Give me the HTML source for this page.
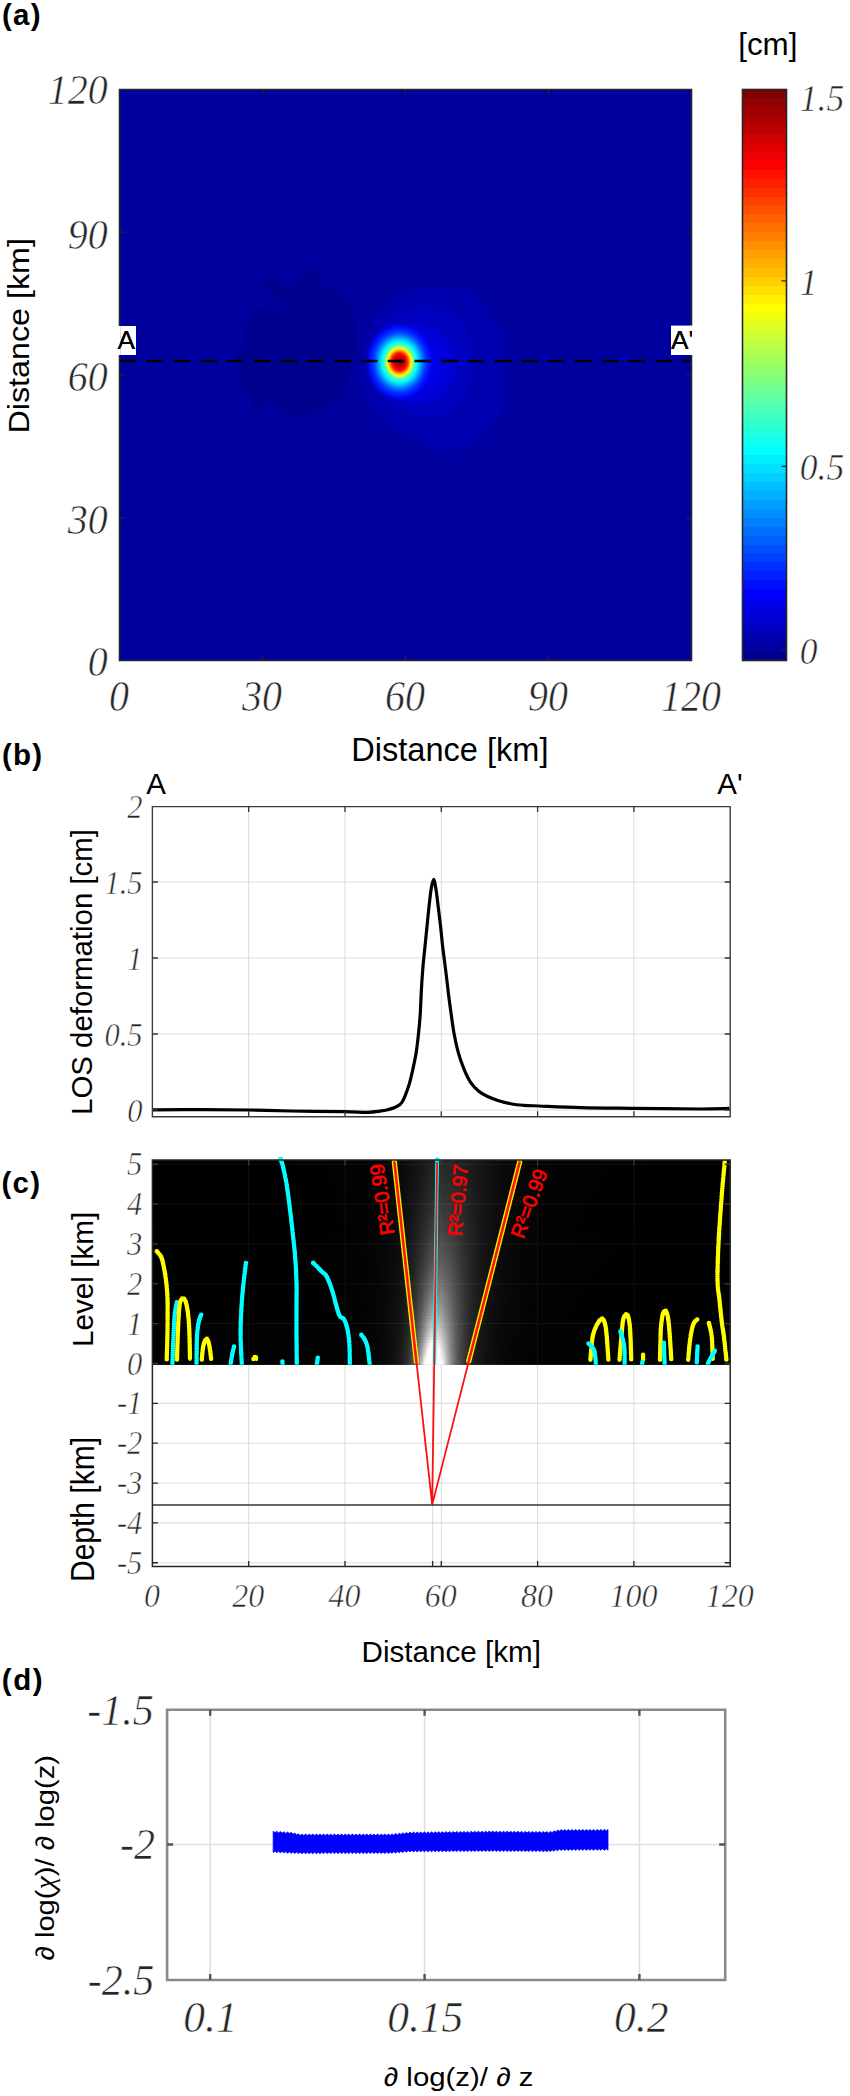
<!DOCTYPE html><html><head><meta charset="utf-8"><style>html,body{margin:0;padding:0;background:#fff}svg{display:block}</style></head><body>
<svg width="850" height="2096" viewBox="0 0 850 2096">
<rect width="850" height="2096" fill="#fff"/>
<defs>
<clipPath id="mapclip"><rect x="119.5" y="89.5" width="572.0" height="571.0"/></clipPath>
<radialGradient id="spotg" cx="0.5" cy="0.5" r="0.5"><stop offset="0.0000" stop-color="#8F0000"/><stop offset="0.0882" stop-color="#A80000"/><stop offset="0.1618" stop-color="#DB0000"/><stop offset="0.2206" stop-color="#FF0F00"/><stop offset="0.2647" stop-color="#FF5700"/><stop offset="0.3088" stop-color="#FFBD00"/><stop offset="0.3529" stop-color="#F0FF0F"/><stop offset="0.3971" stop-color="#9EFF61"/><stop offset="0.4412" stop-color="#42FFBD"/><stop offset="0.5000" stop-color="#0AFFF5"/><stop offset="0.5588" stop-color="#00DBFF"/><stop offset="0.6324" stop-color="#009EFF"/><stop offset="0.7206" stop-color="#0057FF"/><stop offset="0.7941" stop-color="#002EFF"/><stop offset="0.8824" stop-color="#000FFF"/><stop offset="1" stop-color="#0000F8" stop-opacity="0"/></radialGradient>
<radialGradient id="outg" cx="0.5" cy="0.5" r="0.5" fx="0.28" fy="0.47"><stop offset="0" stop-color="#0000FF"/><stop offset="0.35" stop-color="#0000F6"/><stop offset="0.7" stop-color="#0000E0"/><stop offset="0.93" stop-color="#0000D2"/><stop offset="1" stop-color="#0000CC"/></radialGradient>
</defs>
<g clip-path="url(#mapclip)">
<rect x="119.5" y="89.5" width="572.0" height="571.0" fill="#00009F"/>
<polygon fill="#00008F" points="322.6,266.0 319.8,278.2 321.6,284.8 332.9,291.4 344.2,298.9 351.8,310.2 355.5,323.4 354.6,338.5 355.5,349.8 352.7,366.7 348.0,379.9 342.4,387.4 344.2,395.9 334.8,398.7 331.1,406.2 314.1,412.8 301.0,419.4 289.6,415.6 276.5,406.2 268.9,402.5 259.5,411.9 251.1,404.4 250.1,391.2 240.7,388.4 238.8,366.7 236.0,355.4 240.7,347.9 245.4,338.5 242.6,329.1 250.1,317.8 254.8,308.4 267.1,306.5 280.2,310.2 284.0,304.6 270.8,297.1 269.9,288.6 261.4,282.0 265.2,278.2 274.6,278.2 284.0,287.6 291.5,285.7 302.8,276.4 314.1,268.8"/>
<ellipse cx="200.7" cy="344" rx="4.2" ry="2.4" fill="#00008F"/>
<ellipse cx="212" cy="370.5" rx="5" ry="2.6" fill="#00008F"/>
<ellipse cx="218.2" cy="384" rx="2.6" ry="2.6" fill="#00008F"/>
<path fill="#0000AF" d="M428.0,288.0 C435.7,287.2 443.0,288.5 450.0,289.0 C457.0,289.5 464.0,288.2 470.0,291.0 C476.0,293.8 482.3,301.2 486.0,306.0 C489.7,310.8 489.3,316.0 492.0,320.0 C494.7,324.0 499.7,325.7 502.0,330.0 C504.3,334.3 505.5,341.3 506.0,346.0 C506.5,350.7 505.3,354.0 505.0,358.0 C504.7,362.0 504.2,364.3 504.0,370.0 C503.8,375.7 504.3,385.7 504.0,392.0 C503.7,398.3 503.7,402.7 502.0,408.0 C500.3,413.3 497.7,419.0 494.0,424.0 C490.3,429.0 485.7,434.0 480.0,438.0 C474.3,442.0 467.3,446.0 460.0,448.0 C452.7,450.0 443.3,451.3 436.0,450.0 C428.7,448.7 422.7,443.0 416.0,440.0 C409.3,437.0 402.3,436.0 396.0,432.0 C389.7,428.0 383.0,422.0 378.0,416.0 C373.0,410.0 368.8,403.7 366.0,396.0 C363.2,388.3 361.3,378.3 361.0,370.0 C360.7,361.7 362.2,353.7 364.0,346.0 C365.8,338.3 368.3,330.7 372.0,324.0 C375.7,317.3 380.7,311.0 386.0,306.0 C391.3,301.0 397.0,297.0 404.0,294.0 C411.0,291.0 420.3,288.8 428.0,288.0Z"/>
<path fill="#0000BF" d="M428.0,306.0 C435.7,306.3 444.0,308.7 450.0,312.0 C456.0,315.3 460.3,320.3 464.0,326.0 C467.7,331.7 470.5,339.0 472.0,346.0 C473.5,353.0 473.7,360.7 473.0,368.0 C472.3,375.3 470.8,383.3 468.0,390.0 C465.2,396.7 461.3,403.3 456.0,408.0 C450.7,412.7 442.7,416.7 436.0,418.0 C429.3,419.3 423.7,418.3 416.0,416.0 C408.3,413.7 397.0,409.3 390.0,404.0 C383.0,398.7 377.7,390.7 374.0,384.0 C370.3,377.3 368.3,370.7 368.0,364.0 C367.7,357.3 369.3,350.7 372.0,344.0 C374.7,337.3 378.7,329.7 384.0,324.0 C389.3,318.3 396.7,313.0 404.0,310.0 C411.3,307.0 420.3,305.7 428.0,306.0Z"/>
<ellipse cx="417" cy="364" rx="41" ry="41" fill="url(#outg)"/>
<ellipse cx="399.5" cy="362" rx="34.0" ry="39.1" fill="url(#spotg)"/>
<line x1="120" y1="361" x2="692" y2="361" stroke="#000" stroke-width="2.4" stroke-dasharray="16.6 10.17"/>
</g>
<rect x="118" y="326" width="18" height="29" fill="#fff"/>
<text transform="translate(117.40,349.20)" font-family="Liberation Sans" font-size="26.2" text-anchor="start" fill="#000" >A</text>
<rect x="671" y="325.6" width="21.5" height="29.4" fill="#fff"/>
<clipPath id="apclip"><rect x="660" y="320" width="32" height="40"/></clipPath>
<g clip-path="url(#apclip)">
<text transform="translate(671.00,349.10)" font-family="Liberation Sans" font-size="26.2" text-anchor="start" fill="#000" >A'</text>
</g>
<path d="M119.5,89.5H691.5V660.5H119.5Z" fill="none" stroke="#262626" stroke-width="1.6"/>
<rect x="117.5" y="326" width="3" height="29" fill="#fff"/>
<rect x="690" y="325.6" width="3" height="29.4" fill="#fff"/>
<text transform="translate(117.40,349.20)" font-family="Liberation Sans" font-size="26.2" text-anchor="start" fill="#000" >A</text>
<g clip-path="url(#apclip)">
<text transform="translate(671.00,349.10)" font-family="Liberation Sans" font-size="26.2" text-anchor="start" fill="#000" >A'</text>
</g>
<path d="M262.5,660.5v-5.5M262.5,89.5v5.5M119.5,517.8h5.5M691.5,517.8h-5.5M405.5,660.5v-5.5M405.5,89.5v5.5M119.5,375.0h5.5M691.5,375.0h-5.5M548.5,660.5v-5.5M548.5,89.5v5.5M119.5,232.2h5.5M691.5,232.2h-5.5" stroke="#262626" stroke-width="1.2" fill="none"/>
<text transform="translate(107.80,104.00) scale(1.0000,1.0700)" font-family="Liberation Serif" font-style="italic" stroke="#fff" stroke-width="0.55" font-size="40" text-anchor="end" fill="#262626" >120</text>
<text transform="translate(107.80,248.50) scale(1.0000,1.0700)" font-family="Liberation Serif" font-style="italic" stroke="#fff" stroke-width="0.55" font-size="40" text-anchor="end" fill="#262626" >90</text>
<text transform="translate(107.80,390.50) scale(1.0000,1.0700)" font-family="Liberation Serif" font-style="italic" stroke="#fff" stroke-width="0.55" font-size="40" text-anchor="end" fill="#262626" >60</text>
<text transform="translate(107.80,533.50) scale(1.0000,1.0700)" font-family="Liberation Serif" font-style="italic" stroke="#fff" stroke-width="0.55" font-size="40" text-anchor="end" fill="#262626" >30</text>
<text transform="translate(107.80,676.00) scale(1.0000,1.0700)" font-family="Liberation Serif" font-style="italic" stroke="#fff" stroke-width="0.55" font-size="40" text-anchor="end" fill="#262626" >0</text>
<text transform="translate(119.00,710.70) scale(1.0000,1.1000)" font-family="Liberation Serif" font-style="italic" stroke="#fff" stroke-width="0.55" font-size="40" text-anchor="middle" fill="#262626" >0</text>
<text transform="translate(262.00,710.70) scale(1.0000,1.1000)" font-family="Liberation Serif" font-style="italic" stroke="#fff" stroke-width="0.55" font-size="40" text-anchor="middle" fill="#262626" >30</text>
<text transform="translate(405.00,710.70) scale(1.0000,1.1000)" font-family="Liberation Serif" font-style="italic" stroke="#fff" stroke-width="0.55" font-size="40" text-anchor="middle" fill="#262626" >60</text>
<text transform="translate(548.00,710.70) scale(1.0000,1.1000)" font-family="Liberation Serif" font-style="italic" stroke="#fff" stroke-width="0.55" font-size="40" text-anchor="middle" fill="#262626" >90</text>
<text transform="translate(691.00,710.70) scale(1.0000,1.1000)" font-family="Liberation Serif" font-style="italic" stroke="#fff" stroke-width="0.55" font-size="40" text-anchor="middle" fill="#262626" >120</text>
<text transform="translate(351.20,760.60)" font-family="Liberation Sans" font-size="32.6" text-anchor="start" fill="#000" >Distance [km]</text>
<text transform="translate(29.00,335.80) rotate(-90) scale(1.0000,0.9300)" font-family="Liberation Sans" font-size="32.3" text-anchor="middle" fill="#000" >Distance [km]</text>
<linearGradient id="cbar" x1="0" y1="0" x2="0" y2="1"><stop offset="0.00000" stop-color="#800000"/><stop offset="0.01562" stop-color="#800000"/><stop offset="0.01562" stop-color="#8F0000"/><stop offset="0.03125" stop-color="#8F0000"/><stop offset="0.03125" stop-color="#9F0000"/><stop offset="0.04688" stop-color="#9F0000"/><stop offset="0.04688" stop-color="#AF0000"/><stop offset="0.06250" stop-color="#AF0000"/><stop offset="0.06250" stop-color="#BF0000"/><stop offset="0.07812" stop-color="#BF0000"/><stop offset="0.07812" stop-color="#CF0000"/><stop offset="0.09375" stop-color="#CF0000"/><stop offset="0.09375" stop-color="#DF0000"/><stop offset="0.10938" stop-color="#DF0000"/><stop offset="0.10938" stop-color="#EF0000"/><stop offset="0.12500" stop-color="#EF0000"/><stop offset="0.12500" stop-color="#FF0000"/><stop offset="0.14062" stop-color="#FF0000"/><stop offset="0.14062" stop-color="#FF1000"/><stop offset="0.15625" stop-color="#FF1000"/><stop offset="0.15625" stop-color="#FF2000"/><stop offset="0.17188" stop-color="#FF2000"/><stop offset="0.17188" stop-color="#FF3000"/><stop offset="0.18750" stop-color="#FF3000"/><stop offset="0.18750" stop-color="#FF4000"/><stop offset="0.20312" stop-color="#FF4000"/><stop offset="0.20312" stop-color="#FF5000"/><stop offset="0.21875" stop-color="#FF5000"/><stop offset="0.21875" stop-color="#FF6000"/><stop offset="0.23438" stop-color="#FF6000"/><stop offset="0.23438" stop-color="#FF7000"/><stop offset="0.25000" stop-color="#FF7000"/><stop offset="0.25000" stop-color="#FF8000"/><stop offset="0.26562" stop-color="#FF8000"/><stop offset="0.26562" stop-color="#FF8F00"/><stop offset="0.28125" stop-color="#FF8F00"/><stop offset="0.28125" stop-color="#FF9F00"/><stop offset="0.29688" stop-color="#FF9F00"/><stop offset="0.29688" stop-color="#FFAF00"/><stop offset="0.31250" stop-color="#FFAF00"/><stop offset="0.31250" stop-color="#FFBF00"/><stop offset="0.32812" stop-color="#FFBF00"/><stop offset="0.32812" stop-color="#FFCF00"/><stop offset="0.34375" stop-color="#FFCF00"/><stop offset="0.34375" stop-color="#FFDF00"/><stop offset="0.35938" stop-color="#FFDF00"/><stop offset="0.35938" stop-color="#FFEF00"/><stop offset="0.37500" stop-color="#FFEF00"/><stop offset="0.37500" stop-color="#FFFF00"/><stop offset="0.39062" stop-color="#FFFF00"/><stop offset="0.39062" stop-color="#EFFF10"/><stop offset="0.40625" stop-color="#EFFF10"/><stop offset="0.40625" stop-color="#DFFF20"/><stop offset="0.42188" stop-color="#DFFF20"/><stop offset="0.42188" stop-color="#CFFF30"/><stop offset="0.43750" stop-color="#CFFF30"/><stop offset="0.43750" stop-color="#BFFF40"/><stop offset="0.45312" stop-color="#BFFF40"/><stop offset="0.45312" stop-color="#AFFF50"/><stop offset="0.46875" stop-color="#AFFF50"/><stop offset="0.46875" stop-color="#9FFF60"/><stop offset="0.48438" stop-color="#9FFF60"/><stop offset="0.48438" stop-color="#8FFF70"/><stop offset="0.50000" stop-color="#8FFF70"/><stop offset="0.50000" stop-color="#80FF80"/><stop offset="0.51562" stop-color="#80FF80"/><stop offset="0.51562" stop-color="#70FF8F"/><stop offset="0.53125" stop-color="#70FF8F"/><stop offset="0.53125" stop-color="#60FF9F"/><stop offset="0.54688" stop-color="#60FF9F"/><stop offset="0.54688" stop-color="#50FFAF"/><stop offset="0.56250" stop-color="#50FFAF"/><stop offset="0.56250" stop-color="#40FFBF"/><stop offset="0.57812" stop-color="#40FFBF"/><stop offset="0.57812" stop-color="#30FFCF"/><stop offset="0.59375" stop-color="#30FFCF"/><stop offset="0.59375" stop-color="#20FFDF"/><stop offset="0.60938" stop-color="#20FFDF"/><stop offset="0.60938" stop-color="#10FFEF"/><stop offset="0.62500" stop-color="#10FFEF"/><stop offset="0.62500" stop-color="#00FFFF"/><stop offset="0.64062" stop-color="#00FFFF"/><stop offset="0.64062" stop-color="#00EFFF"/><stop offset="0.65625" stop-color="#00EFFF"/><stop offset="0.65625" stop-color="#00DFFF"/><stop offset="0.67188" stop-color="#00DFFF"/><stop offset="0.67188" stop-color="#00CFFF"/><stop offset="0.68750" stop-color="#00CFFF"/><stop offset="0.68750" stop-color="#00BFFF"/><stop offset="0.70312" stop-color="#00BFFF"/><stop offset="0.70312" stop-color="#00AFFF"/><stop offset="0.71875" stop-color="#00AFFF"/><stop offset="0.71875" stop-color="#009FFF"/><stop offset="0.73438" stop-color="#009FFF"/><stop offset="0.73438" stop-color="#008FFF"/><stop offset="0.75000" stop-color="#008FFF"/><stop offset="0.75000" stop-color="#0080FF"/><stop offset="0.76562" stop-color="#0080FF"/><stop offset="0.76562" stop-color="#0070FF"/><stop offset="0.78125" stop-color="#0070FF"/><stop offset="0.78125" stop-color="#0060FF"/><stop offset="0.79688" stop-color="#0060FF"/><stop offset="0.79688" stop-color="#0050FF"/><stop offset="0.81250" stop-color="#0050FF"/><stop offset="0.81250" stop-color="#0040FF"/><stop offset="0.82812" stop-color="#0040FF"/><stop offset="0.82812" stop-color="#0030FF"/><stop offset="0.84375" stop-color="#0030FF"/><stop offset="0.84375" stop-color="#0020FF"/><stop offset="0.85938" stop-color="#0020FF"/><stop offset="0.85938" stop-color="#0010FF"/><stop offset="0.87500" stop-color="#0010FF"/><stop offset="0.87500" stop-color="#0000FF"/><stop offset="0.89062" stop-color="#0000FF"/><stop offset="0.89062" stop-color="#0000EF"/><stop offset="0.90625" stop-color="#0000EF"/><stop offset="0.90625" stop-color="#0000DF"/><stop offset="0.92188" stop-color="#0000DF"/><stop offset="0.92188" stop-color="#0000CF"/><stop offset="0.93750" stop-color="#0000CF"/><stop offset="0.93750" stop-color="#0000BF"/><stop offset="0.95312" stop-color="#0000BF"/><stop offset="0.95312" stop-color="#0000AF"/><stop offset="0.96875" stop-color="#0000AF"/><stop offset="0.96875" stop-color="#00009F"/><stop offset="0.98438" stop-color="#00009F"/><stop offset="0.98438" stop-color="#00008F"/><stop offset="1.00000" stop-color="#00008F"/></linearGradient>
<rect x="742.5" y="89.5" width="44.0" height="571.0" fill="url(#cbar)"/>
<rect x="742.5" y="89.5" width="44.0" height="571.0" fill="none" stroke="#262626" stroke-width="1.6"/>
<path d="M786.5,96.6h-5M786.5,280.8h-5M786.5,466.3h-5M786.5,650.2h-5" stroke="#262626" stroke-width="1.2"/>
<text transform="translate(799.80,111.00) scale(1.0000,1.0600)" font-family="Liberation Serif" font-style="italic" stroke="#fff" stroke-width="0.55" font-size="35.5" text-anchor="start" fill="#262626" >1.5</text>
<text transform="translate(799.80,295.00) scale(1.0000,1.0600)" font-family="Liberation Serif" font-style="italic" stroke="#fff" stroke-width="0.55" font-size="35.5" text-anchor="start" fill="#262626" >1</text>
<text transform="translate(799.80,479.50) scale(1.0000,1.0600)" font-family="Liberation Serif" font-style="italic" stroke="#fff" stroke-width="0.55" font-size="35.5" text-anchor="start" fill="#262626" >0.5</text>
<text transform="translate(799.80,664.00) scale(1.0000,1.0600)" font-family="Liberation Serif" font-style="italic" stroke="#fff" stroke-width="0.55" font-size="35.5" text-anchor="start" fill="#262626" >0</text>
<text transform="translate(738.20,54.50)" font-family="Liberation Sans" font-size="31.4" text-anchor="start" fill="#000" >[cm]</text>
<text transform="translate(2.00,24.90)" font-family="Liberation Sans" font-size="29.5" font-weight="bold" text-anchor="start" fill="#000" letter-spacing="1.2">(a)</text>
<path d="M248.70,806.6V1116.8M345.00,806.6V1116.8M441.30,806.6V1116.8M537.60,806.6V1116.8M633.90,806.6V1116.8M152.4,1110.00H730.2M152.4,1034.00H730.2M152.4,958.00H730.2M152.4,882.00H730.2" stroke="#DEDEDE" stroke-width="1.1" fill="none"/>
<path d="M153.00,1109.80 C161.33,1109.77 187.03,1109.57 203.00,1109.60 C218.97,1109.63 234.13,1109.77 248.80,1110.00 C263.47,1110.23 275.13,1110.73 291.00,1111.00 C306.87,1111.27 331.17,1111.38 344.00,1111.60 C356.83,1111.82 362.00,1112.38 368.00,1112.30 C374.00,1112.22 376.90,1111.48 380.00,1111.10 C383.10,1110.72 383.98,1110.68 386.60,1110.00 C389.22,1109.32 393.10,1108.33 395.70,1107.00 C398.30,1105.67 400.02,1105.57 402.20,1102.00 C404.38,1098.43 407.02,1091.08 408.80,1085.60 C410.58,1080.12 411.67,1074.60 412.90,1069.10 C414.13,1063.60 415.27,1058.50 416.20,1052.60 C417.13,1046.70 417.83,1040.02 418.50,1033.70 C419.17,1027.38 419.80,1020.32 420.20,1014.70 C420.60,1009.08 420.63,1005.30 420.90,1000.00 C421.17,994.70 421.42,988.88 421.80,982.90 C422.18,976.92 422.65,970.37 423.20,964.10 C423.75,957.83 424.47,951.57 425.10,945.30 C425.73,939.03 426.37,932.78 427.00,926.50 C427.63,920.22 428.20,913.88 428.90,907.60 C429.60,901.32 430.42,893.50 431.20,888.80 C431.98,884.10 432.82,879.40 433.60,879.40 C434.38,879.40 435.12,884.10 435.90,888.80 C436.68,893.50 437.52,901.32 438.30,907.60 C439.08,913.88 439.90,920.22 440.60,926.50 C441.30,932.78 441.78,939.03 442.50,945.30 C443.22,951.57 444.12,957.83 444.90,964.10 C445.68,970.37 446.58,977.75 447.20,982.90 C447.82,988.05 448.00,990.25 448.60,995.00 C449.20,999.75 449.88,1004.95 450.80,1011.40 C451.72,1017.85 452.85,1026.83 454.10,1033.70 C455.35,1040.57 456.65,1046.70 458.30,1052.60 C459.95,1058.50 461.95,1064.15 464.00,1069.10 C466.05,1074.05 468.13,1078.60 470.60,1082.30 C473.07,1086.00 476.05,1088.97 478.80,1091.30 C481.55,1093.63 483.80,1094.73 487.10,1096.30 C490.40,1097.87 494.48,1099.42 498.60,1100.70 C502.72,1101.98 507.65,1103.23 511.80,1104.00 C515.95,1104.77 519.00,1104.97 523.50,1105.30 C528.00,1105.63 529.18,1105.62 538.80,1106.00 C548.42,1106.38 565.33,1107.22 581.20,1107.60 C597.07,1107.98 614.20,1108.07 634.00,1108.30 C653.80,1108.53 684.08,1108.98 700.00,1109.00 C715.92,1109.02 724.58,1108.50 729.50,1108.40" fill="none" stroke="#000" stroke-width="3.2" stroke-linejoin="round"/>
<path d="M152.4,806.6H730.2V1116.8H152.4Z" fill="none" stroke="#3c3c3c" stroke-width="1.4"/>
<path d="M248.70,1116.8v-5.5M248.70,806.6v5.5M345.00,1116.8v-5.5M345.00,806.6v5.5M441.30,1116.8v-5.5M441.30,806.6v5.5M537.60,1116.8v-5.5M537.60,806.6v5.5M633.90,1116.8v-5.5M633.90,806.6v5.5M152.4,1110.00h5.5M730.2,1110.00h-5.5M152.4,1034.00h5.5M730.2,1034.00h-5.5M152.4,958.00h5.5M730.2,958.00h-5.5M152.4,882.00h5.5M730.2,882.00h-5.5" stroke="#333" stroke-width="1.3" fill="none"/>
<text transform="translate(142.60,817.90) scale(1.0000,1.0700)" font-family="Liberation Serif" font-style="italic" stroke="#fff" stroke-width="0.55" font-size="30.5" text-anchor="end" fill="#262626" >2</text>
<text transform="translate(142.60,893.90) scale(1.0000,1.0700)" font-family="Liberation Serif" font-style="italic" stroke="#fff" stroke-width="0.55" font-size="30.5" text-anchor="end" fill="#262626" >1.5</text>
<text transform="translate(142.60,969.90) scale(1.0000,1.0700)" font-family="Liberation Serif" font-style="italic" stroke="#fff" stroke-width="0.55" font-size="30.5" text-anchor="end" fill="#262626" >1</text>
<text transform="translate(142.60,1045.90) scale(1.0000,1.0700)" font-family="Liberation Serif" font-style="italic" stroke="#fff" stroke-width="0.55" font-size="30.5" text-anchor="end" fill="#262626" >0.5</text>
<text transform="translate(142.60,1121.90) scale(1.0000,1.0700)" font-family="Liberation Serif" font-style="italic" stroke="#fff" stroke-width="0.55" font-size="30.5" text-anchor="end" fill="#262626" >0</text>
<text transform="translate(2.00,764.60)" font-family="Liberation Sans" font-size="29.5" font-weight="bold" text-anchor="start" fill="#000" letter-spacing="1.2">(b)</text>
<text transform="translate(146.20,794.00)" font-family="Liberation Sans" font-size="29.5" text-anchor="start" fill="#000" >A</text>
<text transform="translate(717.20,794.10)" font-family="Liberation Sans" font-size="29.5" text-anchor="start" fill="#000" >A'</text>
<text transform="translate(91.90,972.00) rotate(-90) scale(0.9800,1.0000)" font-family="Liberation Sans" font-size="30" text-anchor="middle" fill="#000" >LOS deformation [cm]</text>
<path d="M248.70,1364.5V1566.5M345.00,1364.5V1566.5M441.30,1364.5V1566.5M537.60,1364.5V1566.5M633.90,1364.5V1566.5M152.4,1403.35H730.2M152.4,1443.20H730.2M152.4,1483.05H730.2M152.4,1522.90H730.2M152.4,1562.75H730.2" stroke="#DEDEDE" stroke-width="1.1" fill="none"/>
<line x1="432.6" y1="1364.5" x2="432.6" y2="1566.5" stroke="#DEDEDE" stroke-width="1.1"/>
<rect x="152.4" y="1160.0" width="577.80" height="204.50" fill="#000"/>
<defs>
<linearGradient id="gl0" gradientUnits="userSpaceOnUse" x1="268.6" y1="0" x2="690.3" y2="0"><stop offset="0.0000" stop-color="#000000"/><stop offset="0.1256" stop-color="#010101"/><stop offset="0.2010" stop-color="#020202"/><stop offset="0.2512" stop-color="#030303"/><stop offset="0.2847" stop-color="#060606"/><stop offset="0.3140" stop-color="#0A0A0A"/><stop offset="0.3392" stop-color="#0F0F0F"/><stop offset="0.3601" stop-color="#151515"/><stop offset="0.3768" stop-color="#1C1C1C"/><stop offset="0.3936" stop-color="#222222"/><stop offset="0.4062" stop-color="#262626"/><stop offset="0.4187" stop-color="#272727"/><stop offset="0.4362" stop-color="#262626"/><stop offset="0.4536" stop-color="#222222"/><stop offset="0.4768" stop-color="#1C1C1C"/><stop offset="0.5001" stop-color="#151515"/><stop offset="0.5292" stop-color="#0F0F0F"/><stop offset="0.5640" stop-color="#0A0A0A"/><stop offset="0.6047" stop-color="#060606"/><stop offset="0.6512" stop-color="#030303"/><stop offset="0.7210" stop-color="#020202"/><stop offset="0.8256" stop-color="#010101"/><stop offset="1.0000" stop-color="#000000"/></linearGradient>
<linearGradient id="gl1" gradientUnits="userSpaceOnUse" x1="269.9" y1="0" x2="688.0" y2="0"><stop offset="0.0000" stop-color="#000000"/><stop offset="0.1256" stop-color="#010101"/><stop offset="0.2010" stop-color="#020202"/><stop offset="0.2512" stop-color="#040404"/><stop offset="0.2847" stop-color="#060606"/><stop offset="0.3140" stop-color="#0A0A0A"/><stop offset="0.3392" stop-color="#0F0F0F"/><stop offset="0.3601" stop-color="#161616"/><stop offset="0.3768" stop-color="#1D1D1D"/><stop offset="0.3936" stop-color="#232323"/><stop offset="0.4062" stop-color="#272727"/><stop offset="0.4187" stop-color="#282828"/><stop offset="0.4362" stop-color="#272727"/><stop offset="0.4536" stop-color="#232323"/><stop offset="0.4768" stop-color="#1D1D1D"/><stop offset="0.5001" stop-color="#161616"/><stop offset="0.5292" stop-color="#0F0F0F"/><stop offset="0.5640" stop-color="#0A0A0A"/><stop offset="0.6047" stop-color="#060606"/><stop offset="0.6512" stop-color="#040404"/><stop offset="0.7210" stop-color="#020202"/><stop offset="0.8256" stop-color="#010101"/><stop offset="1.0000" stop-color="#000000"/></linearGradient>
<linearGradient id="gl2" gradientUnits="userSpaceOnUse" x1="271.3" y1="0" x2="685.6" y2="0"><stop offset="0.0000" stop-color="#000000"/><stop offset="0.1256" stop-color="#010101"/><stop offset="0.2010" stop-color="#020202"/><stop offset="0.2512" stop-color="#040404"/><stop offset="0.2847" stop-color="#060606"/><stop offset="0.3140" stop-color="#0A0A0A"/><stop offset="0.3392" stop-color="#101010"/><stop offset="0.3601" stop-color="#161616"/><stop offset="0.3768" stop-color="#1D1D1D"/><stop offset="0.3936" stop-color="#242424"/><stop offset="0.4062" stop-color="#272727"/><stop offset="0.4187" stop-color="#292929"/><stop offset="0.4362" stop-color="#272727"/><stop offset="0.4536" stop-color="#242424"/><stop offset="0.4768" stop-color="#1D1D1D"/><stop offset="0.5001" stop-color="#161616"/><stop offset="0.5292" stop-color="#101010"/><stop offset="0.5640" stop-color="#0A0A0A"/><stop offset="0.6047" stop-color="#060606"/><stop offset="0.6512" stop-color="#040404"/><stop offset="0.7210" stop-color="#020202"/><stop offset="0.8256" stop-color="#010101"/><stop offset="1.0000" stop-color="#000000"/></linearGradient>
<linearGradient id="gl3" gradientUnits="userSpaceOnUse" x1="272.6" y1="0" x2="683.3" y2="0"><stop offset="0.0000" stop-color="#000000"/><stop offset="0.1256" stop-color="#010101"/><stop offset="0.2010" stop-color="#020202"/><stop offset="0.2512" stop-color="#040404"/><stop offset="0.2847" stop-color="#060606"/><stop offset="0.3140" stop-color="#0A0A0A"/><stop offset="0.3392" stop-color="#101010"/><stop offset="0.3601" stop-color="#171717"/><stop offset="0.3768" stop-color="#1E1E1E"/><stop offset="0.3936" stop-color="#252525"/><stop offset="0.4062" stop-color="#282828"/><stop offset="0.4187" stop-color="#2A2A2A"/><stop offset="0.4362" stop-color="#282828"/><stop offset="0.4536" stop-color="#252525"/><stop offset="0.4768" stop-color="#1E1E1E"/><stop offset="0.5001" stop-color="#171717"/><stop offset="0.5292" stop-color="#101010"/><stop offset="0.5640" stop-color="#0A0A0A"/><stop offset="0.6047" stop-color="#060606"/><stop offset="0.6512" stop-color="#040404"/><stop offset="0.7210" stop-color="#020202"/><stop offset="0.8256" stop-color="#010101"/><stop offset="1.0000" stop-color="#000000"/></linearGradient>
<linearGradient id="gl4" gradientUnits="userSpaceOnUse" x1="274.0" y1="0" x2="681.0" y2="0"><stop offset="0.0000" stop-color="#000000"/><stop offset="0.1256" stop-color="#010101"/><stop offset="0.2010" stop-color="#020202"/><stop offset="0.2512" stop-color="#040404"/><stop offset="0.2847" stop-color="#060606"/><stop offset="0.3140" stop-color="#0A0A0A"/><stop offset="0.3392" stop-color="#101010"/><stop offset="0.3601" stop-color="#171717"/><stop offset="0.3768" stop-color="#1F1F1F"/><stop offset="0.3936" stop-color="#252525"/><stop offset="0.4062" stop-color="#292929"/><stop offset="0.4187" stop-color="#2B2B2B"/><stop offset="0.4362" stop-color="#292929"/><stop offset="0.4536" stop-color="#252525"/><stop offset="0.4768" stop-color="#1F1F1F"/><stop offset="0.5001" stop-color="#171717"/><stop offset="0.5292" stop-color="#101010"/><stop offset="0.5640" stop-color="#0A0A0A"/><stop offset="0.6047" stop-color="#060606"/><stop offset="0.6512" stop-color="#040404"/><stop offset="0.7210" stop-color="#020202"/><stop offset="0.8256" stop-color="#010101"/><stop offset="1.0000" stop-color="#000000"/></linearGradient>
<linearGradient id="gl5" gradientUnits="userSpaceOnUse" x1="275.3" y1="0" x2="678.6" y2="0"><stop offset="0.0000" stop-color="#000000"/><stop offset="0.1256" stop-color="#010101"/><stop offset="0.2010" stop-color="#020202"/><stop offset="0.2512" stop-color="#040404"/><stop offset="0.2847" stop-color="#060606"/><stop offset="0.3140" stop-color="#0B0B0B"/><stop offset="0.3392" stop-color="#111111"/><stop offset="0.3601" stop-color="#181818"/><stop offset="0.3768" stop-color="#1F1F1F"/><stop offset="0.3936" stop-color="#262626"/><stop offset="0.4062" stop-color="#2A2A2A"/><stop offset="0.4187" stop-color="#2C2C2C"/><stop offset="0.4362" stop-color="#2A2A2A"/><stop offset="0.4536" stop-color="#262626"/><stop offset="0.4768" stop-color="#1F1F1F"/><stop offset="0.5001" stop-color="#181818"/><stop offset="0.5292" stop-color="#111111"/><stop offset="0.5640" stop-color="#0B0B0B"/><stop offset="0.6047" stop-color="#060606"/><stop offset="0.6512" stop-color="#040404"/><stop offset="0.7210" stop-color="#020202"/><stop offset="0.8256" stop-color="#010101"/><stop offset="1.0000" stop-color="#000000"/></linearGradient>
<linearGradient id="gl6" gradientUnits="userSpaceOnUse" x1="276.7" y1="0" x2="676.3" y2="0"><stop offset="0.0000" stop-color="#000000"/><stop offset="0.1256" stop-color="#010101"/><stop offset="0.2010" stop-color="#020202"/><stop offset="0.2512" stop-color="#040404"/><stop offset="0.2847" stop-color="#070707"/><stop offset="0.3140" stop-color="#0B0B0B"/><stop offset="0.3392" stop-color="#111111"/><stop offset="0.3601" stop-color="#191919"/><stop offset="0.3768" stop-color="#202020"/><stop offset="0.3936" stop-color="#272727"/><stop offset="0.4062" stop-color="#2B2B2B"/><stop offset="0.4187" stop-color="#2D2D2D"/><stop offset="0.4362" stop-color="#2B2B2B"/><stop offset="0.4536" stop-color="#272727"/><stop offset="0.4768" stop-color="#202020"/><stop offset="0.5001" stop-color="#191919"/><stop offset="0.5292" stop-color="#111111"/><stop offset="0.5640" stop-color="#0B0B0B"/><stop offset="0.6047" stop-color="#070707"/><stop offset="0.6512" stop-color="#040404"/><stop offset="0.7210" stop-color="#020202"/><stop offset="0.8256" stop-color="#010101"/><stop offset="1.0000" stop-color="#000000"/></linearGradient>
<linearGradient id="gl7" gradientUnits="userSpaceOnUse" x1="278.0" y1="0" x2="674.0" y2="0"><stop offset="0.0000" stop-color="#000000"/><stop offset="0.1256" stop-color="#010101"/><stop offset="0.2010" stop-color="#020202"/><stop offset="0.2512" stop-color="#040404"/><stop offset="0.2847" stop-color="#070707"/><stop offset="0.3140" stop-color="#0B0B0B"/><stop offset="0.3392" stop-color="#111111"/><stop offset="0.3601" stop-color="#191919"/><stop offset="0.3768" stop-color="#212121"/><stop offset="0.3936" stop-color="#282828"/><stop offset="0.4062" stop-color="#2C2C2C"/><stop offset="0.4187" stop-color="#2E2E2E"/><stop offset="0.4362" stop-color="#2C2C2C"/><stop offset="0.4536" stop-color="#282828"/><stop offset="0.4768" stop-color="#212121"/><stop offset="0.5001" stop-color="#191919"/><stop offset="0.5292" stop-color="#111111"/><stop offset="0.5640" stop-color="#0B0B0B"/><stop offset="0.6047" stop-color="#070707"/><stop offset="0.6512" stop-color="#040404"/><stop offset="0.7210" stop-color="#020202"/><stop offset="0.8256" stop-color="#010101"/><stop offset="1.0000" stop-color="#000000"/></linearGradient>
<linearGradient id="gl8" gradientUnits="userSpaceOnUse" x1="279.4" y1="0" x2="671.6" y2="0"><stop offset="0.0000" stop-color="#000000"/><stop offset="0.1256" stop-color="#010101"/><stop offset="0.2010" stop-color="#020202"/><stop offset="0.2512" stop-color="#040404"/><stop offset="0.2847" stop-color="#070707"/><stop offset="0.3140" stop-color="#0B0B0B"/><stop offset="0.3392" stop-color="#121212"/><stop offset="0.3601" stop-color="#1A1A1A"/><stop offset="0.3768" stop-color="#212121"/><stop offset="0.3936" stop-color="#292929"/><stop offset="0.4062" stop-color="#2D2D2D"/><stop offset="0.4187" stop-color="#2F2F2F"/><stop offset="0.4362" stop-color="#2D2D2D"/><stop offset="0.4536" stop-color="#292929"/><stop offset="0.4768" stop-color="#212121"/><stop offset="0.5001" stop-color="#1A1A1A"/><stop offset="0.5292" stop-color="#121212"/><stop offset="0.5640" stop-color="#0B0B0B"/><stop offset="0.6047" stop-color="#070707"/><stop offset="0.6512" stop-color="#040404"/><stop offset="0.7210" stop-color="#020202"/><stop offset="0.8256" stop-color="#010101"/><stop offset="1.0000" stop-color="#000000"/></linearGradient>
<linearGradient id="gl9" gradientUnits="userSpaceOnUse" x1="280.7" y1="0" x2="669.3" y2="0"><stop offset="0.0000" stop-color="#000000"/><stop offset="0.1256" stop-color="#010101"/><stop offset="0.2010" stop-color="#020202"/><stop offset="0.2512" stop-color="#040404"/><stop offset="0.2847" stop-color="#070707"/><stop offset="0.3140" stop-color="#0C0C0C"/><stop offset="0.3392" stop-color="#121212"/><stop offset="0.3601" stop-color="#1A1A1A"/><stop offset="0.3768" stop-color="#222222"/><stop offset="0.3936" stop-color="#2A2A2A"/><stop offset="0.4062" stop-color="#2E2E2E"/><stop offset="0.4187" stop-color="#303030"/><stop offset="0.4362" stop-color="#2E2E2E"/><stop offset="0.4536" stop-color="#2A2A2A"/><stop offset="0.4768" stop-color="#222222"/><stop offset="0.5001" stop-color="#1A1A1A"/><stop offset="0.5292" stop-color="#121212"/><stop offset="0.5640" stop-color="#0C0C0C"/><stop offset="0.6047" stop-color="#070707"/><stop offset="0.6512" stop-color="#040404"/><stop offset="0.7210" stop-color="#020202"/><stop offset="0.8256" stop-color="#010101"/><stop offset="1.0000" stop-color="#000000"/></linearGradient>
<linearGradient id="gl10" gradientUnits="userSpaceOnUse" x1="282.0" y1="0" x2="667.0" y2="0"><stop offset="0.0000" stop-color="#000000"/><stop offset="0.1256" stop-color="#010101"/><stop offset="0.2010" stop-color="#020202"/><stop offset="0.2512" stop-color="#040404"/><stop offset="0.2847" stop-color="#070707"/><stop offset="0.3140" stop-color="#0C0C0C"/><stop offset="0.3392" stop-color="#131313"/><stop offset="0.3601" stop-color="#1B1B1B"/><stop offset="0.3768" stop-color="#232323"/><stop offset="0.3936" stop-color="#2B2B2B"/><stop offset="0.4062" stop-color="#2F2F2F"/><stop offset="0.4187" stop-color="#313131"/><stop offset="0.4362" stop-color="#2F2F2F"/><stop offset="0.4536" stop-color="#2B2B2B"/><stop offset="0.4768" stop-color="#232323"/><stop offset="0.5001" stop-color="#1B1B1B"/><stop offset="0.5292" stop-color="#131313"/><stop offset="0.5640" stop-color="#0C0C0C"/><stop offset="0.6047" stop-color="#070707"/><stop offset="0.6512" stop-color="#040404"/><stop offset="0.7210" stop-color="#020202"/><stop offset="0.8256" stop-color="#010101"/><stop offset="1.0000" stop-color="#000000"/></linearGradient>
<linearGradient id="gl11" gradientUnits="userSpaceOnUse" x1="283.4" y1="0" x2="664.6" y2="0"><stop offset="0.0000" stop-color="#000000"/><stop offset="0.1256" stop-color="#010101"/><stop offset="0.2010" stop-color="#020202"/><stop offset="0.2512" stop-color="#040404"/><stop offset="0.2847" stop-color="#070707"/><stop offset="0.3140" stop-color="#0C0C0C"/><stop offset="0.3392" stop-color="#131313"/><stop offset="0.3601" stop-color="#1C1C1C"/><stop offset="0.3768" stop-color="#242424"/><stop offset="0.3936" stop-color="#2C2C2C"/><stop offset="0.4062" stop-color="#313131"/><stop offset="0.4187" stop-color="#323232"/><stop offset="0.4362" stop-color="#313131"/><stop offset="0.4536" stop-color="#2C2C2C"/><stop offset="0.4768" stop-color="#242424"/><stop offset="0.5001" stop-color="#1C1C1C"/><stop offset="0.5292" stop-color="#131313"/><stop offset="0.5640" stop-color="#0C0C0C"/><stop offset="0.6047" stop-color="#070707"/><stop offset="0.6512" stop-color="#040404"/><stop offset="0.7210" stop-color="#020202"/><stop offset="0.8256" stop-color="#010101"/><stop offset="1.0000" stop-color="#000000"/></linearGradient>
<linearGradient id="gl12" gradientUnits="userSpaceOnUse" x1="284.7" y1="0" x2="662.3" y2="0"><stop offset="0.0000" stop-color="#000000"/><stop offset="0.1256" stop-color="#010101"/><stop offset="0.2010" stop-color="#020202"/><stop offset="0.2512" stop-color="#050505"/><stop offset="0.2847" stop-color="#080808"/><stop offset="0.3140" stop-color="#0D0D0D"/><stop offset="0.3392" stop-color="#141414"/><stop offset="0.3601" stop-color="#1C1C1C"/><stop offset="0.3768" stop-color="#252525"/><stop offset="0.3936" stop-color="#2D2D2D"/><stop offset="0.4062" stop-color="#323232"/><stop offset="0.4187" stop-color="#333333"/><stop offset="0.4362" stop-color="#323232"/><stop offset="0.4536" stop-color="#2D2D2D"/><stop offset="0.4768" stop-color="#252525"/><stop offset="0.5001" stop-color="#1C1C1C"/><stop offset="0.5292" stop-color="#141414"/><stop offset="0.5640" stop-color="#0D0D0D"/><stop offset="0.6047" stop-color="#080808"/><stop offset="0.6512" stop-color="#050505"/><stop offset="0.7210" stop-color="#020202"/><stop offset="0.8256" stop-color="#010101"/><stop offset="1.0000" stop-color="#000000"/></linearGradient>
<linearGradient id="gl13" gradientUnits="userSpaceOnUse" x1="286.1" y1="0" x2="660.0" y2="0"><stop offset="0.0000" stop-color="#000000"/><stop offset="0.1256" stop-color="#010101"/><stop offset="0.2010" stop-color="#020202"/><stop offset="0.2512" stop-color="#050505"/><stop offset="0.2847" stop-color="#080808"/><stop offset="0.3140" stop-color="#0D0D0D"/><stop offset="0.3392" stop-color="#141414"/><stop offset="0.3601" stop-color="#1D1D1D"/><stop offset="0.3768" stop-color="#262626"/><stop offset="0.3936" stop-color="#2E2E2E"/><stop offset="0.4062" stop-color="#333333"/><stop offset="0.4187" stop-color="#353535"/><stop offset="0.4362" stop-color="#333333"/><stop offset="0.4536" stop-color="#2E2E2E"/><stop offset="0.4768" stop-color="#262626"/><stop offset="0.5001" stop-color="#1D1D1D"/><stop offset="0.5292" stop-color="#141414"/><stop offset="0.5640" stop-color="#0D0D0D"/><stop offset="0.6047" stop-color="#080808"/><stop offset="0.6512" stop-color="#050505"/><stop offset="0.7210" stop-color="#020202"/><stop offset="0.8256" stop-color="#010101"/><stop offset="1.0000" stop-color="#000000"/></linearGradient>
<linearGradient id="gl14" gradientUnits="userSpaceOnUse" x1="287.4" y1="0" x2="657.6" y2="0"><stop offset="0.0000" stop-color="#000000"/><stop offset="0.1256" stop-color="#010101"/><stop offset="0.2010" stop-color="#030303"/><stop offset="0.2512" stop-color="#050505"/><stop offset="0.2847" stop-color="#080808"/><stop offset="0.3140" stop-color="#0D0D0D"/><stop offset="0.3392" stop-color="#151515"/><stop offset="0.3601" stop-color="#1E1E1E"/><stop offset="0.3768" stop-color="#272727"/><stop offset="0.3936" stop-color="#2F2F2F"/><stop offset="0.4062" stop-color="#343434"/><stop offset="0.4187" stop-color="#363636"/><stop offset="0.4362" stop-color="#343434"/><stop offset="0.4536" stop-color="#2F2F2F"/><stop offset="0.4768" stop-color="#272727"/><stop offset="0.5001" stop-color="#1E1E1E"/><stop offset="0.5292" stop-color="#151515"/><stop offset="0.5640" stop-color="#0D0D0D"/><stop offset="0.6047" stop-color="#080808"/><stop offset="0.6512" stop-color="#050505"/><stop offset="0.7210" stop-color="#030303"/><stop offset="0.8256" stop-color="#010101"/><stop offset="1.0000" stop-color="#000000"/></linearGradient>
<linearGradient id="gl15" gradientUnits="userSpaceOnUse" x1="288.8" y1="0" x2="655.3" y2="0"><stop offset="0.0000" stop-color="#000000"/><stop offset="0.1256" stop-color="#010101"/><stop offset="0.2010" stop-color="#030303"/><stop offset="0.2512" stop-color="#050505"/><stop offset="0.2847" stop-color="#080808"/><stop offset="0.3140" stop-color="#0E0E0E"/><stop offset="0.3392" stop-color="#151515"/><stop offset="0.3601" stop-color="#1E1E1E"/><stop offset="0.3768" stop-color="#282828"/><stop offset="0.3936" stop-color="#313131"/><stop offset="0.4062" stop-color="#363636"/><stop offset="0.4187" stop-color="#373737"/><stop offset="0.4362" stop-color="#363636"/><stop offset="0.4536" stop-color="#313131"/><stop offset="0.4768" stop-color="#282828"/><stop offset="0.5001" stop-color="#1E1E1E"/><stop offset="0.5292" stop-color="#151515"/><stop offset="0.5640" stop-color="#0E0E0E"/><stop offset="0.6047" stop-color="#080808"/><stop offset="0.6512" stop-color="#050505"/><stop offset="0.7210" stop-color="#030303"/><stop offset="0.8256" stop-color="#010101"/><stop offset="1.0000" stop-color="#000000"/></linearGradient>
<linearGradient id="gl16" gradientUnits="userSpaceOnUse" x1="290.1" y1="0" x2="653.0" y2="0"><stop offset="0.0000" stop-color="#000000"/><stop offset="0.1256" stop-color="#010101"/><stop offset="0.2010" stop-color="#030303"/><stop offset="0.2512" stop-color="#050505"/><stop offset="0.2847" stop-color="#080808"/><stop offset="0.3140" stop-color="#0E0E0E"/><stop offset="0.3392" stop-color="#161616"/><stop offset="0.3601" stop-color="#1F1F1F"/><stop offset="0.3768" stop-color="#292929"/><stop offset="0.3936" stop-color="#323232"/><stop offset="0.4062" stop-color="#373737"/><stop offset="0.4187" stop-color="#393939"/><stop offset="0.4362" stop-color="#373737"/><stop offset="0.4536" stop-color="#323232"/><stop offset="0.4768" stop-color="#292929"/><stop offset="0.5001" stop-color="#1F1F1F"/><stop offset="0.5292" stop-color="#161616"/><stop offset="0.5640" stop-color="#0E0E0E"/><stop offset="0.6047" stop-color="#080808"/><stop offset="0.6512" stop-color="#050505"/><stop offset="0.7210" stop-color="#030303"/><stop offset="0.8256" stop-color="#010101"/><stop offset="1.0000" stop-color="#000000"/></linearGradient>
<linearGradient id="gl17" gradientUnits="userSpaceOnUse" x1="291.5" y1="0" x2="650.6" y2="0"><stop offset="0.0000" stop-color="#000000"/><stop offset="0.1256" stop-color="#010101"/><stop offset="0.2010" stop-color="#030303"/><stop offset="0.2512" stop-color="#050505"/><stop offset="0.2847" stop-color="#090909"/><stop offset="0.3140" stop-color="#0E0E0E"/><stop offset="0.3392" stop-color="#161616"/><stop offset="0.3601" stop-color="#202020"/><stop offset="0.3768" stop-color="#2A2A2A"/><stop offset="0.3936" stop-color="#333333"/><stop offset="0.4062" stop-color="#383838"/><stop offset="0.4187" stop-color="#3A3A3A"/><stop offset="0.4362" stop-color="#383838"/><stop offset="0.4536" stop-color="#333333"/><stop offset="0.4768" stop-color="#2A2A2A"/><stop offset="0.5001" stop-color="#202020"/><stop offset="0.5292" stop-color="#161616"/><stop offset="0.5640" stop-color="#0E0E0E"/><stop offset="0.6047" stop-color="#090909"/><stop offset="0.6512" stop-color="#050505"/><stop offset="0.7210" stop-color="#030303"/><stop offset="0.8256" stop-color="#010101"/><stop offset="1.0000" stop-color="#000000"/></linearGradient>
<linearGradient id="gl18" gradientUnits="userSpaceOnUse" x1="292.8" y1="0" x2="648.3" y2="0"><stop offset="0.0000" stop-color="#000000"/><stop offset="0.1256" stop-color="#010101"/><stop offset="0.2010" stop-color="#030303"/><stop offset="0.2512" stop-color="#050505"/><stop offset="0.2847" stop-color="#090909"/><stop offset="0.3140" stop-color="#0F0F0F"/><stop offset="0.3392" stop-color="#171717"/><stop offset="0.3601" stop-color="#212121"/><stop offset="0.3768" stop-color="#2B2B2B"/><stop offset="0.3936" stop-color="#353535"/><stop offset="0.4062" stop-color="#3A3A3A"/><stop offset="0.4187" stop-color="#3C3C3C"/><stop offset="0.4362" stop-color="#3A3A3A"/><stop offset="0.4536" stop-color="#353535"/><stop offset="0.4768" stop-color="#2B2B2B"/><stop offset="0.5001" stop-color="#212121"/><stop offset="0.5292" stop-color="#171717"/><stop offset="0.5640" stop-color="#0F0F0F"/><stop offset="0.6047" stop-color="#090909"/><stop offset="0.6512" stop-color="#050505"/><stop offset="0.7210" stop-color="#030303"/><stop offset="0.8256" stop-color="#010101"/><stop offset="1.0000" stop-color="#000000"/></linearGradient>
<linearGradient id="gl19" gradientUnits="userSpaceOnUse" x1="294.1" y1="0" x2="646.0" y2="0"><stop offset="0.0000" stop-color="#000000"/><stop offset="0.1256" stop-color="#010101"/><stop offset="0.2010" stop-color="#030303"/><stop offset="0.2512" stop-color="#050505"/><stop offset="0.2847" stop-color="#090909"/><stop offset="0.3140" stop-color="#0F0F0F"/><stop offset="0.3392" stop-color="#171717"/><stop offset="0.3601" stop-color="#222222"/><stop offset="0.3768" stop-color="#2C2C2C"/><stop offset="0.3936" stop-color="#363636"/><stop offset="0.4062" stop-color="#3B3B3B"/><stop offset="0.4187" stop-color="#3D3D3D"/><stop offset="0.4362" stop-color="#3B3B3B"/><stop offset="0.4536" stop-color="#363636"/><stop offset="0.4768" stop-color="#2C2C2C"/><stop offset="0.5001" stop-color="#222222"/><stop offset="0.5292" stop-color="#171717"/><stop offset="0.5640" stop-color="#0F0F0F"/><stop offset="0.6047" stop-color="#090909"/><stop offset="0.6512" stop-color="#050505"/><stop offset="0.7210" stop-color="#030303"/><stop offset="0.8256" stop-color="#010101"/><stop offset="1.0000" stop-color="#000000"/></linearGradient>
<linearGradient id="gl20" gradientUnits="userSpaceOnUse" x1="295.5" y1="0" x2="643.6" y2="0"><stop offset="0.0000" stop-color="#000000"/><stop offset="0.1256" stop-color="#010101"/><stop offset="0.2010" stop-color="#030303"/><stop offset="0.2512" stop-color="#060606"/><stop offset="0.2847" stop-color="#090909"/><stop offset="0.3140" stop-color="#0F0F0F"/><stop offset="0.3392" stop-color="#181818"/><stop offset="0.3601" stop-color="#232323"/><stop offset="0.3768" stop-color="#2D2D2D"/><stop offset="0.3936" stop-color="#373737"/><stop offset="0.4062" stop-color="#3D3D3D"/><stop offset="0.4187" stop-color="#3F3F3F"/><stop offset="0.4362" stop-color="#3D3D3D"/><stop offset="0.4536" stop-color="#373737"/><stop offset="0.4768" stop-color="#2D2D2D"/><stop offset="0.5001" stop-color="#232323"/><stop offset="0.5292" stop-color="#181818"/><stop offset="0.5640" stop-color="#0F0F0F"/><stop offset="0.6047" stop-color="#090909"/><stop offset="0.6512" stop-color="#060606"/><stop offset="0.7210" stop-color="#030303"/><stop offset="0.8256" stop-color="#010101"/><stop offset="1.0000" stop-color="#000000"/></linearGradient>
<linearGradient id="gl21" gradientUnits="userSpaceOnUse" x1="296.8" y1="0" x2="641.3" y2="0"><stop offset="0.0000" stop-color="#000000"/><stop offset="0.1256" stop-color="#010101"/><stop offset="0.2010" stop-color="#030303"/><stop offset="0.2512" stop-color="#060606"/><stop offset="0.2847" stop-color="#0A0A0A"/><stop offset="0.3140" stop-color="#101010"/><stop offset="0.3392" stop-color="#191919"/><stop offset="0.3601" stop-color="#242424"/><stop offset="0.3768" stop-color="#2E2E2E"/><stop offset="0.3936" stop-color="#393939"/><stop offset="0.4062" stop-color="#3F3F3F"/><stop offset="0.4187" stop-color="#414141"/><stop offset="0.4362" stop-color="#3F3F3F"/><stop offset="0.4536" stop-color="#393939"/><stop offset="0.4768" stop-color="#2E2E2E"/><stop offset="0.5001" stop-color="#242424"/><stop offset="0.5292" stop-color="#191919"/><stop offset="0.5640" stop-color="#101010"/><stop offset="0.6047" stop-color="#0A0A0A"/><stop offset="0.6512" stop-color="#060606"/><stop offset="0.7210" stop-color="#030303"/><stop offset="0.8256" stop-color="#010101"/><stop offset="1.0000" stop-color="#000000"/></linearGradient>
<linearGradient id="gl22" gradientUnits="userSpaceOnUse" x1="298.2" y1="0" x2="639.0" y2="0"><stop offset="0.0000" stop-color="#010101"/><stop offset="0.1256" stop-color="#010101"/><stop offset="0.2010" stop-color="#030303"/><stop offset="0.2512" stop-color="#060606"/><stop offset="0.2847" stop-color="#0A0A0A"/><stop offset="0.3140" stop-color="#101010"/><stop offset="0.3392" stop-color="#191919"/><stop offset="0.3601" stop-color="#252525"/><stop offset="0.3768" stop-color="#303030"/><stop offset="0.3936" stop-color="#3A3A3A"/><stop offset="0.4062" stop-color="#404040"/><stop offset="0.4187" stop-color="#424242"/><stop offset="0.4362" stop-color="#404040"/><stop offset="0.4536" stop-color="#3A3A3A"/><stop offset="0.4768" stop-color="#303030"/><stop offset="0.5001" stop-color="#252525"/><stop offset="0.5292" stop-color="#191919"/><stop offset="0.5640" stop-color="#101010"/><stop offset="0.6047" stop-color="#0A0A0A"/><stop offset="0.6512" stop-color="#060606"/><stop offset="0.7210" stop-color="#030303"/><stop offset="0.8256" stop-color="#010101"/><stop offset="1.0000" stop-color="#010101"/></linearGradient>
<linearGradient id="gl23" gradientUnits="userSpaceOnUse" x1="299.5" y1="0" x2="636.6" y2="0"><stop offset="0.0000" stop-color="#010101"/><stop offset="0.1256" stop-color="#010101"/><stop offset="0.2010" stop-color="#030303"/><stop offset="0.2512" stop-color="#060606"/><stop offset="0.2847" stop-color="#0A0A0A"/><stop offset="0.3140" stop-color="#111111"/><stop offset="0.3392" stop-color="#1A1A1A"/><stop offset="0.3601" stop-color="#262626"/><stop offset="0.3768" stop-color="#313131"/><stop offset="0.3936" stop-color="#3C3C3C"/><stop offset="0.4062" stop-color="#424242"/><stop offset="0.4187" stop-color="#444444"/><stop offset="0.4362" stop-color="#424242"/><stop offset="0.4536" stop-color="#3C3C3C"/><stop offset="0.4768" stop-color="#313131"/><stop offset="0.5001" stop-color="#262626"/><stop offset="0.5292" stop-color="#1A1A1A"/><stop offset="0.5640" stop-color="#111111"/><stop offset="0.6047" stop-color="#0A0A0A"/><stop offset="0.6512" stop-color="#060606"/><stop offset="0.7210" stop-color="#030303"/><stop offset="0.8256" stop-color="#010101"/><stop offset="1.0000" stop-color="#010101"/></linearGradient>
<linearGradient id="gl24" gradientUnits="userSpaceOnUse" x1="300.9" y1="0" x2="634.3" y2="0"><stop offset="0.0000" stop-color="#010101"/><stop offset="0.1256" stop-color="#010101"/><stop offset="0.2010" stop-color="#030303"/><stop offset="0.2512" stop-color="#060606"/><stop offset="0.2847" stop-color="#0A0A0A"/><stop offset="0.3140" stop-color="#111111"/><stop offset="0.3392" stop-color="#1B1B1B"/><stop offset="0.3601" stop-color="#272727"/><stop offset="0.3768" stop-color="#323232"/><stop offset="0.3936" stop-color="#3E3E3E"/><stop offset="0.4062" stop-color="#444444"/><stop offset="0.4187" stop-color="#464646"/><stop offset="0.4362" stop-color="#444444"/><stop offset="0.4536" stop-color="#3E3E3E"/><stop offset="0.4768" stop-color="#323232"/><stop offset="0.5001" stop-color="#272727"/><stop offset="0.5292" stop-color="#1B1B1B"/><stop offset="0.5640" stop-color="#111111"/><stop offset="0.6047" stop-color="#0A0A0A"/><stop offset="0.6512" stop-color="#060606"/><stop offset="0.7210" stop-color="#030303"/><stop offset="0.8256" stop-color="#010101"/><stop offset="1.0000" stop-color="#010101"/></linearGradient>
<linearGradient id="gl25" gradientUnits="userSpaceOnUse" x1="302.2" y1="0" x2="632.0" y2="0"><stop offset="0.0000" stop-color="#010101"/><stop offset="0.1256" stop-color="#010101"/><stop offset="0.2010" stop-color="#030303"/><stop offset="0.2512" stop-color="#060606"/><stop offset="0.2847" stop-color="#0B0B0B"/><stop offset="0.3140" stop-color="#121212"/><stop offset="0.3392" stop-color="#1C1C1C"/><stop offset="0.3601" stop-color="#282828"/><stop offset="0.3768" stop-color="#343434"/><stop offset="0.3936" stop-color="#3F3F3F"/><stop offset="0.4062" stop-color="#464646"/><stop offset="0.4187" stop-color="#484848"/><stop offset="0.4362" stop-color="#464646"/><stop offset="0.4536" stop-color="#3F3F3F"/><stop offset="0.4768" stop-color="#343434"/><stop offset="0.5001" stop-color="#282828"/><stop offset="0.5292" stop-color="#1C1C1C"/><stop offset="0.5640" stop-color="#121212"/><stop offset="0.6047" stop-color="#0B0B0B"/><stop offset="0.6512" stop-color="#060606"/><stop offset="0.7210" stop-color="#030303"/><stop offset="0.8256" stop-color="#010101"/><stop offset="1.0000" stop-color="#010101"/></linearGradient>
<linearGradient id="gl26" gradientUnits="userSpaceOnUse" x1="303.6" y1="0" x2="629.6" y2="0"><stop offset="0.0000" stop-color="#010101"/><stop offset="0.1256" stop-color="#020202"/><stop offset="0.2010" stop-color="#030303"/><stop offset="0.2512" stop-color="#070707"/><stop offset="0.2847" stop-color="#0B0B0B"/><stop offset="0.3140" stop-color="#121212"/><stop offset="0.3392" stop-color="#1C1C1C"/><stop offset="0.3601" stop-color="#292929"/><stop offset="0.3768" stop-color="#353535"/><stop offset="0.3936" stop-color="#414141"/><stop offset="0.4062" stop-color="#484848"/><stop offset="0.4187" stop-color="#4A4A4A"/><stop offset="0.4362" stop-color="#484848"/><stop offset="0.4536" stop-color="#414141"/><stop offset="0.4768" stop-color="#353535"/><stop offset="0.5001" stop-color="#292929"/><stop offset="0.5292" stop-color="#1C1C1C"/><stop offset="0.5640" stop-color="#121212"/><stop offset="0.6047" stop-color="#0B0B0B"/><stop offset="0.6512" stop-color="#070707"/><stop offset="0.7210" stop-color="#030303"/><stop offset="0.8256" stop-color="#020202"/><stop offset="1.0000" stop-color="#010101"/></linearGradient>
<linearGradient id="gl27" gradientUnits="userSpaceOnUse" x1="304.9" y1="0" x2="627.3" y2="0"><stop offset="0.0000" stop-color="#010101"/><stop offset="0.1256" stop-color="#020202"/><stop offset="0.2010" stop-color="#040404"/><stop offset="0.2512" stop-color="#070707"/><stop offset="0.2847" stop-color="#0B0B0B"/><stop offset="0.3140" stop-color="#131313"/><stop offset="0.3392" stop-color="#1D1D1D"/><stop offset="0.3601" stop-color="#2A2A2A"/><stop offset="0.3768" stop-color="#373737"/><stop offset="0.3936" stop-color="#434343"/><stop offset="0.4062" stop-color="#4A4A4A"/><stop offset="0.4187" stop-color="#4C4C4C"/><stop offset="0.4362" stop-color="#4A4A4A"/><stop offset="0.4536" stop-color="#434343"/><stop offset="0.4768" stop-color="#373737"/><stop offset="0.5001" stop-color="#2A2A2A"/><stop offset="0.5292" stop-color="#1D1D1D"/><stop offset="0.5640" stop-color="#131313"/><stop offset="0.6047" stop-color="#0B0B0B"/><stop offset="0.6512" stop-color="#070707"/><stop offset="0.7210" stop-color="#040404"/><stop offset="0.8256" stop-color="#020202"/><stop offset="1.0000" stop-color="#010101"/></linearGradient>
<linearGradient id="gl28" gradientUnits="userSpaceOnUse" x1="306.3" y1="0" x2="625.0" y2="0"><stop offset="0.0000" stop-color="#010101"/><stop offset="0.1256" stop-color="#020202"/><stop offset="0.2010" stop-color="#040404"/><stop offset="0.2512" stop-color="#070707"/><stop offset="0.2847" stop-color="#0C0C0C"/><stop offset="0.3140" stop-color="#131313"/><stop offset="0.3392" stop-color="#1E1E1E"/><stop offset="0.3601" stop-color="#2B2B2B"/><stop offset="0.3768" stop-color="#383838"/><stop offset="0.3936" stop-color="#454545"/><stop offset="0.4062" stop-color="#4C4C4C"/><stop offset="0.4187" stop-color="#4F4F4F"/><stop offset="0.4362" stop-color="#4C4C4C"/><stop offset="0.4536" stop-color="#454545"/><stop offset="0.4768" stop-color="#383838"/><stop offset="0.5001" stop-color="#2B2B2B"/><stop offset="0.5292" stop-color="#1E1E1E"/><stop offset="0.5640" stop-color="#131313"/><stop offset="0.6047" stop-color="#0C0C0C"/><stop offset="0.6512" stop-color="#070707"/><stop offset="0.7210" stop-color="#040404"/><stop offset="0.8256" stop-color="#020202"/><stop offset="1.0000" stop-color="#010101"/></linearGradient>
<linearGradient id="gl29" gradientUnits="userSpaceOnUse" x1="307.6" y1="0" x2="622.6" y2="0"><stop offset="0.0000" stop-color="#010101"/><stop offset="0.1256" stop-color="#020202"/><stop offset="0.2010" stop-color="#040404"/><stop offset="0.2512" stop-color="#070707"/><stop offset="0.2847" stop-color="#0C0C0C"/><stop offset="0.3140" stop-color="#141414"/><stop offset="0.3392" stop-color="#1F1F1F"/><stop offset="0.3601" stop-color="#2C2C2C"/><stop offset="0.3768" stop-color="#3A3A3A"/><stop offset="0.3936" stop-color="#474747"/><stop offset="0.4062" stop-color="#4E4E4E"/><stop offset="0.4187" stop-color="#515151"/><stop offset="0.4362" stop-color="#4E4E4E"/><stop offset="0.4536" stop-color="#474747"/><stop offset="0.4768" stop-color="#3A3A3A"/><stop offset="0.5001" stop-color="#2C2C2C"/><stop offset="0.5292" stop-color="#1F1F1F"/><stop offset="0.5640" stop-color="#141414"/><stop offset="0.6047" stop-color="#0C0C0C"/><stop offset="0.6512" stop-color="#070707"/><stop offset="0.7210" stop-color="#040404"/><stop offset="0.8256" stop-color="#020202"/><stop offset="1.0000" stop-color="#010101"/></linearGradient>
<linearGradient id="gl30" gradientUnits="userSpaceOnUse" x1="308.9" y1="0" x2="620.3" y2="0"><stop offset="0.0000" stop-color="#010101"/><stop offset="0.1256" stop-color="#020202"/><stop offset="0.2010" stop-color="#040404"/><stop offset="0.2512" stop-color="#070707"/><stop offset="0.2847" stop-color="#0C0C0C"/><stop offset="0.3140" stop-color="#141414"/><stop offset="0.3392" stop-color="#202020"/><stop offset="0.3601" stop-color="#2E2E2E"/><stop offset="0.3768" stop-color="#3C3C3C"/><stop offset="0.3936" stop-color="#494949"/><stop offset="0.4062" stop-color="#515151"/><stop offset="0.4187" stop-color="#535353"/><stop offset="0.4362" stop-color="#515151"/><stop offset="0.4536" stop-color="#494949"/><stop offset="0.4768" stop-color="#3C3C3C"/><stop offset="0.5001" stop-color="#2E2E2E"/><stop offset="0.5292" stop-color="#202020"/><stop offset="0.5640" stop-color="#141414"/><stop offset="0.6047" stop-color="#0C0C0C"/><stop offset="0.6512" stop-color="#070707"/><stop offset="0.7210" stop-color="#040404"/><stop offset="0.8256" stop-color="#020202"/><stop offset="1.0000" stop-color="#010101"/></linearGradient>
<linearGradient id="gl31" gradientUnits="userSpaceOnUse" x1="310.3" y1="0" x2="618.0" y2="0"><stop offset="0.0000" stop-color="#010101"/><stop offset="0.1256" stop-color="#020202"/><stop offset="0.2010" stop-color="#040404"/><stop offset="0.2512" stop-color="#080808"/><stop offset="0.2847" stop-color="#0D0D0D"/><stop offset="0.3140" stop-color="#151515"/><stop offset="0.3392" stop-color="#212121"/><stop offset="0.3601" stop-color="#2F2F2F"/><stop offset="0.3768" stop-color="#3D3D3D"/><stop offset="0.3936" stop-color="#4B4B4B"/><stop offset="0.4062" stop-color="#535353"/><stop offset="0.4187" stop-color="#565656"/><stop offset="0.4362" stop-color="#535353"/><stop offset="0.4536" stop-color="#4B4B4B"/><stop offset="0.4768" stop-color="#3D3D3D"/><stop offset="0.5001" stop-color="#2F2F2F"/><stop offset="0.5292" stop-color="#212121"/><stop offset="0.5640" stop-color="#151515"/><stop offset="0.6047" stop-color="#0D0D0D"/><stop offset="0.6512" stop-color="#080808"/><stop offset="0.7210" stop-color="#040404"/><stop offset="0.8256" stop-color="#020202"/><stop offset="1.0000" stop-color="#010101"/></linearGradient>
<linearGradient id="gl32" gradientUnits="userSpaceOnUse" x1="311.6" y1="0" x2="615.6" y2="0"><stop offset="0.0000" stop-color="#010101"/><stop offset="0.1256" stop-color="#020202"/><stop offset="0.2010" stop-color="#040404"/><stop offset="0.2512" stop-color="#080808"/><stop offset="0.2847" stop-color="#0D0D0D"/><stop offset="0.3140" stop-color="#161616"/><stop offset="0.3392" stop-color="#222222"/><stop offset="0.3601" stop-color="#313131"/><stop offset="0.3768" stop-color="#3F3F3F"/><stop offset="0.3936" stop-color="#4E4E4E"/><stop offset="0.4062" stop-color="#565656"/><stop offset="0.4187" stop-color="#585858"/><stop offset="0.4362" stop-color="#565656"/><stop offset="0.4536" stop-color="#4E4E4E"/><stop offset="0.4768" stop-color="#3F3F3F"/><stop offset="0.5001" stop-color="#313131"/><stop offset="0.5292" stop-color="#222222"/><stop offset="0.5640" stop-color="#161616"/><stop offset="0.6047" stop-color="#0D0D0D"/><stop offset="0.6512" stop-color="#080808"/><stop offset="0.7210" stop-color="#040404"/><stop offset="0.8256" stop-color="#020202"/><stop offset="1.0000" stop-color="#010101"/></linearGradient>
<linearGradient id="gl33" gradientUnits="userSpaceOnUse" x1="313.0" y1="0" x2="613.3" y2="0"><stop offset="0.0000" stop-color="#010101"/><stop offset="0.1256" stop-color="#020202"/><stop offset="0.2010" stop-color="#040404"/><stop offset="0.2512" stop-color="#080808"/><stop offset="0.2847" stop-color="#0E0E0E"/><stop offset="0.3140" stop-color="#161616"/><stop offset="0.3392" stop-color="#232323"/><stop offset="0.3601" stop-color="#323232"/><stop offset="0.3768" stop-color="#414141"/><stop offset="0.3936" stop-color="#505050"/><stop offset="0.4062" stop-color="#585858"/><stop offset="0.4187" stop-color="#5B5B5B"/><stop offset="0.4362" stop-color="#585858"/><stop offset="0.4536" stop-color="#505050"/><stop offset="0.4768" stop-color="#414141"/><stop offset="0.5001" stop-color="#323232"/><stop offset="0.5292" stop-color="#232323"/><stop offset="0.5640" stop-color="#161616"/><stop offset="0.6047" stop-color="#0E0E0E"/><stop offset="0.6512" stop-color="#080808"/><stop offset="0.7210" stop-color="#040404"/><stop offset="0.8256" stop-color="#020202"/><stop offset="1.0000" stop-color="#010101"/></linearGradient>
<linearGradient id="gl34" gradientUnits="userSpaceOnUse" x1="314.3" y1="0" x2="610.9" y2="0"><stop offset="0.0000" stop-color="#010101"/><stop offset="0.1256" stop-color="#020202"/><stop offset="0.2010" stop-color="#040404"/><stop offset="0.2512" stop-color="#080808"/><stop offset="0.2847" stop-color="#0E0E0E"/><stop offset="0.3140" stop-color="#171717"/><stop offset="0.3392" stop-color="#242424"/><stop offset="0.3601" stop-color="#343434"/><stop offset="0.3768" stop-color="#434343"/><stop offset="0.3936" stop-color="#535353"/><stop offset="0.4062" stop-color="#5B5B5B"/><stop offset="0.4187" stop-color="#5E5E5E"/><stop offset="0.4362" stop-color="#5B5B5B"/><stop offset="0.4536" stop-color="#535353"/><stop offset="0.4768" stop-color="#434343"/><stop offset="0.5001" stop-color="#343434"/><stop offset="0.5292" stop-color="#242424"/><stop offset="0.5640" stop-color="#171717"/><stop offset="0.6047" stop-color="#0E0E0E"/><stop offset="0.6512" stop-color="#080808"/><stop offset="0.7210" stop-color="#040404"/><stop offset="0.8256" stop-color="#020202"/><stop offset="1.0000" stop-color="#010101"/></linearGradient>
<linearGradient id="gl35" gradientUnits="userSpaceOnUse" x1="315.7" y1="0" x2="608.6" y2="0"><stop offset="0.0000" stop-color="#010101"/><stop offset="0.1256" stop-color="#020202"/><stop offset="0.2010" stop-color="#040404"/><stop offset="0.2512" stop-color="#090909"/><stop offset="0.2847" stop-color="#0E0E0E"/><stop offset="0.3140" stop-color="#181818"/><stop offset="0.3392" stop-color="#252525"/><stop offset="0.3601" stop-color="#353535"/><stop offset="0.3768" stop-color="#454545"/><stop offset="0.3936" stop-color="#555555"/><stop offset="0.4062" stop-color="#5E5E5E"/><stop offset="0.4187" stop-color="#616161"/><stop offset="0.4362" stop-color="#5E5E5E"/><stop offset="0.4536" stop-color="#555555"/><stop offset="0.4768" stop-color="#454545"/><stop offset="0.5001" stop-color="#353535"/><stop offset="0.5292" stop-color="#252525"/><stop offset="0.5640" stop-color="#181818"/><stop offset="0.6047" stop-color="#0E0E0E"/><stop offset="0.6512" stop-color="#090909"/><stop offset="0.7210" stop-color="#040404"/><stop offset="0.8256" stop-color="#020202"/><stop offset="1.0000" stop-color="#010101"/></linearGradient>
<linearGradient id="gl36" gradientUnits="userSpaceOnUse" x1="317.0" y1="0" x2="606.3" y2="0"><stop offset="0.0000" stop-color="#010101"/><stop offset="0.1256" stop-color="#020202"/><stop offset="0.2010" stop-color="#050505"/><stop offset="0.2512" stop-color="#090909"/><stop offset="0.2847" stop-color="#0F0F0F"/><stop offset="0.3140" stop-color="#181818"/><stop offset="0.3392" stop-color="#262626"/><stop offset="0.3601" stop-color="#373737"/><stop offset="0.3768" stop-color="#484848"/><stop offset="0.3936" stop-color="#585858"/><stop offset="0.4062" stop-color="#616161"/><stop offset="0.4187" stop-color="#646464"/><stop offset="0.4362" stop-color="#616161"/><stop offset="0.4536" stop-color="#585858"/><stop offset="0.4768" stop-color="#484848"/><stop offset="0.5001" stop-color="#373737"/><stop offset="0.5292" stop-color="#262626"/><stop offset="0.5640" stop-color="#181818"/><stop offset="0.6047" stop-color="#0F0F0F"/><stop offset="0.6512" stop-color="#090909"/><stop offset="0.7210" stop-color="#050505"/><stop offset="0.8256" stop-color="#020202"/><stop offset="1.0000" stop-color="#010101"/></linearGradient>
<linearGradient id="gl37" gradientUnits="userSpaceOnUse" x1="318.4" y1="0" x2="603.9" y2="0"><stop offset="0.0000" stop-color="#010101"/><stop offset="0.1256" stop-color="#020202"/><stop offset="0.2010" stop-color="#050505"/><stop offset="0.2512" stop-color="#090909"/><stop offset="0.2847" stop-color="#0F0F0F"/><stop offset="0.3140" stop-color="#191919"/><stop offset="0.3392" stop-color="#272727"/><stop offset="0.3601" stop-color="#393939"/><stop offset="0.3768" stop-color="#4A4A4A"/><stop offset="0.3936" stop-color="#5B5B5B"/><stop offset="0.4062" stop-color="#646464"/><stop offset="0.4187" stop-color="#676767"/><stop offset="0.4362" stop-color="#646464"/><stop offset="0.4536" stop-color="#5B5B5B"/><stop offset="0.4768" stop-color="#4A4A4A"/><stop offset="0.5001" stop-color="#393939"/><stop offset="0.5292" stop-color="#272727"/><stop offset="0.5640" stop-color="#191919"/><stop offset="0.6047" stop-color="#0F0F0F"/><stop offset="0.6512" stop-color="#090909"/><stop offset="0.7210" stop-color="#050505"/><stop offset="0.8256" stop-color="#020202"/><stop offset="1.0000" stop-color="#010101"/></linearGradient>
<linearGradient id="gl38" gradientUnits="userSpaceOnUse" x1="319.7" y1="0" x2="601.6" y2="0"><stop offset="0.0000" stop-color="#010101"/><stop offset="0.1256" stop-color="#020202"/><stop offset="0.2010" stop-color="#050505"/><stop offset="0.2512" stop-color="#0A0A0A"/><stop offset="0.2847" stop-color="#101010"/><stop offset="0.3140" stop-color="#1A1A1A"/><stop offset="0.3392" stop-color="#292929"/><stop offset="0.3601" stop-color="#3B3B3B"/><stop offset="0.3768" stop-color="#4C4C4C"/><stop offset="0.3936" stop-color="#5E5E5E"/><stop offset="0.4062" stop-color="#676767"/><stop offset="0.4187" stop-color="#6B6B6B"/><stop offset="0.4362" stop-color="#676767"/><stop offset="0.4536" stop-color="#5E5E5E"/><stop offset="0.4768" stop-color="#4C4C4C"/><stop offset="0.5001" stop-color="#3B3B3B"/><stop offset="0.5292" stop-color="#292929"/><stop offset="0.5640" stop-color="#1A1A1A"/><stop offset="0.6047" stop-color="#101010"/><stop offset="0.6512" stop-color="#0A0A0A"/><stop offset="0.7210" stop-color="#050505"/><stop offset="0.8256" stop-color="#020202"/><stop offset="1.0000" stop-color="#010101"/></linearGradient>
<linearGradient id="gl39" gradientUnits="userSpaceOnUse" x1="321.0" y1="0" x2="599.3" y2="0"><stop offset="0.0000" stop-color="#010101"/><stop offset="0.1256" stop-color="#020202"/><stop offset="0.2010" stop-color="#050505"/><stop offset="0.2512" stop-color="#0A0A0A"/><stop offset="0.2847" stop-color="#101010"/><stop offset="0.3140" stop-color="#1B1B1B"/><stop offset="0.3392" stop-color="#2A2A2A"/><stop offset="0.3601" stop-color="#3D3D3D"/><stop offset="0.3768" stop-color="#4F4F4F"/><stop offset="0.3936" stop-color="#616161"/><stop offset="0.4062" stop-color="#6B6B6B"/><stop offset="0.4187" stop-color="#6E6E6E"/><stop offset="0.4362" stop-color="#6B6B6B"/><stop offset="0.4536" stop-color="#616161"/><stop offset="0.4768" stop-color="#4F4F4F"/><stop offset="0.5001" stop-color="#3D3D3D"/><stop offset="0.5292" stop-color="#2A2A2A"/><stop offset="0.5640" stop-color="#1B1B1B"/><stop offset="0.6047" stop-color="#101010"/><stop offset="0.6512" stop-color="#0A0A0A"/><stop offset="0.7210" stop-color="#050505"/><stop offset="0.8256" stop-color="#020202"/><stop offset="1.0000" stop-color="#010101"/></linearGradient>
<linearGradient id="gl40" gradientUnits="userSpaceOnUse" x1="322.4" y1="0" x2="596.9" y2="0"><stop offset="0.0000" stop-color="#010101"/><stop offset="0.1256" stop-color="#020202"/><stop offset="0.2010" stop-color="#050505"/><stop offset="0.2512" stop-color="#0A0A0A"/><stop offset="0.2847" stop-color="#111111"/><stop offset="0.3140" stop-color="#1C1C1C"/><stop offset="0.3392" stop-color="#2B2B2B"/><stop offset="0.3601" stop-color="#3F3F3F"/><stop offset="0.3768" stop-color="#525252"/><stop offset="0.3936" stop-color="#646464"/><stop offset="0.4062" stop-color="#6E6E6E"/><stop offset="0.4187" stop-color="#727272"/><stop offset="0.4362" stop-color="#6E6E6E"/><stop offset="0.4536" stop-color="#646464"/><stop offset="0.4768" stop-color="#525252"/><stop offset="0.5001" stop-color="#3F3F3F"/><stop offset="0.5292" stop-color="#2B2B2B"/><stop offset="0.5640" stop-color="#1C1C1C"/><stop offset="0.6047" stop-color="#111111"/><stop offset="0.6512" stop-color="#0A0A0A"/><stop offset="0.7210" stop-color="#050505"/><stop offset="0.8256" stop-color="#020202"/><stop offset="1.0000" stop-color="#010101"/></linearGradient>
<linearGradient id="gl41" gradientUnits="userSpaceOnUse" x1="323.7" y1="0" x2="594.6" y2="0"><stop offset="0.0000" stop-color="#010101"/><stop offset="0.1256" stop-color="#020202"/><stop offset="0.2010" stop-color="#050505"/><stop offset="0.2512" stop-color="#0B0B0B"/><stop offset="0.2847" stop-color="#121212"/><stop offset="0.3140" stop-color="#1D1D1D"/><stop offset="0.3392" stop-color="#2D2D2D"/><stop offset="0.3601" stop-color="#414141"/><stop offset="0.3768" stop-color="#545454"/><stop offset="0.3936" stop-color="#686868"/><stop offset="0.4062" stop-color="#727272"/><stop offset="0.4187" stop-color="#767676"/><stop offset="0.4362" stop-color="#727272"/><stop offset="0.4536" stop-color="#686868"/><stop offset="0.4768" stop-color="#545454"/><stop offset="0.5001" stop-color="#414141"/><stop offset="0.5292" stop-color="#2D2D2D"/><stop offset="0.5640" stop-color="#1D1D1D"/><stop offset="0.6047" stop-color="#121212"/><stop offset="0.6512" stop-color="#0B0B0B"/><stop offset="0.7210" stop-color="#050505"/><stop offset="0.8256" stop-color="#020202"/><stop offset="1.0000" stop-color="#010101"/></linearGradient>
<linearGradient id="gl42" gradientUnits="userSpaceOnUse" x1="325.1" y1="0" x2="592.3" y2="0"><stop offset="0.0000" stop-color="#010101"/><stop offset="0.1256" stop-color="#030303"/><stop offset="0.2010" stop-color="#060606"/><stop offset="0.2512" stop-color="#0B0B0B"/><stop offset="0.2847" stop-color="#121212"/><stop offset="0.3140" stop-color="#1E1E1E"/><stop offset="0.3392" stop-color="#2F2F2F"/><stop offset="0.3601" stop-color="#434343"/><stop offset="0.3768" stop-color="#575757"/><stop offset="0.3936" stop-color="#6B6B6B"/><stop offset="0.4062" stop-color="#767676"/><stop offset="0.4187" stop-color="#7A7A7A"/><stop offset="0.4362" stop-color="#767676"/><stop offset="0.4536" stop-color="#6B6B6B"/><stop offset="0.4768" stop-color="#575757"/><stop offset="0.5001" stop-color="#434343"/><stop offset="0.5292" stop-color="#2F2F2F"/><stop offset="0.5640" stop-color="#1E1E1E"/><stop offset="0.6047" stop-color="#121212"/><stop offset="0.6512" stop-color="#0B0B0B"/><stop offset="0.7210" stop-color="#060606"/><stop offset="0.8256" stop-color="#030303"/><stop offset="1.0000" stop-color="#010101"/></linearGradient>
<linearGradient id="gl43" gradientUnits="userSpaceOnUse" x1="326.4" y1="0" x2="589.9" y2="0"><stop offset="0.0000" stop-color="#010101"/><stop offset="0.1256" stop-color="#030303"/><stop offset="0.2010" stop-color="#060606"/><stop offset="0.2512" stop-color="#0B0B0B"/><stop offset="0.2847" stop-color="#131313"/><stop offset="0.3140" stop-color="#1F1F1F"/><stop offset="0.3392" stop-color="#303030"/><stop offset="0.3601" stop-color="#464646"/><stop offset="0.3768" stop-color="#5A5A5A"/><stop offset="0.3936" stop-color="#6F6F6F"/><stop offset="0.4062" stop-color="#7A7A7A"/><stop offset="0.4187" stop-color="#7E7E7E"/><stop offset="0.4362" stop-color="#7A7A7A"/><stop offset="0.4536" stop-color="#6F6F6F"/><stop offset="0.4768" stop-color="#5A5A5A"/><stop offset="0.5001" stop-color="#464646"/><stop offset="0.5292" stop-color="#303030"/><stop offset="0.5640" stop-color="#1F1F1F"/><stop offset="0.6047" stop-color="#131313"/><stop offset="0.6512" stop-color="#0B0B0B"/><stop offset="0.7210" stop-color="#060606"/><stop offset="0.8256" stop-color="#030303"/><stop offset="1.0000" stop-color="#010101"/></linearGradient>
<linearGradient id="gl44" gradientUnits="userSpaceOnUse" x1="327.8" y1="0" x2="587.6" y2="0"><stop offset="0.0000" stop-color="#010101"/><stop offset="0.1256" stop-color="#030303"/><stop offset="0.2010" stop-color="#060606"/><stop offset="0.2512" stop-color="#0C0C0C"/><stop offset="0.2847" stop-color="#141414"/><stop offset="0.3140" stop-color="#202020"/><stop offset="0.3392" stop-color="#323232"/><stop offset="0.3601" stop-color="#484848"/><stop offset="0.3768" stop-color="#5E5E5E"/><stop offset="0.3936" stop-color="#737373"/><stop offset="0.4062" stop-color="#7F7F7F"/><stop offset="0.4187" stop-color="#838383"/><stop offset="0.4362" stop-color="#7F7F7F"/><stop offset="0.4536" stop-color="#737373"/><stop offset="0.4768" stop-color="#5E5E5E"/><stop offset="0.5001" stop-color="#484848"/><stop offset="0.5292" stop-color="#323232"/><stop offset="0.5640" stop-color="#202020"/><stop offset="0.6047" stop-color="#141414"/><stop offset="0.6512" stop-color="#0C0C0C"/><stop offset="0.7210" stop-color="#060606"/><stop offset="0.8256" stop-color="#030303"/><stop offset="1.0000" stop-color="#010101"/></linearGradient>
<linearGradient id="gl45" gradientUnits="userSpaceOnUse" x1="329.1" y1="0" x2="585.3" y2="0"><stop offset="0.0000" stop-color="#010101"/><stop offset="0.1256" stop-color="#030303"/><stop offset="0.2010" stop-color="#060606"/><stop offset="0.2512" stop-color="#0C0C0C"/><stop offset="0.2847" stop-color="#141414"/><stop offset="0.3140" stop-color="#212121"/><stop offset="0.3392" stop-color="#343434"/><stop offset="0.3601" stop-color="#4B4B4B"/><stop offset="0.3768" stop-color="#616161"/><stop offset="0.3936" stop-color="#777777"/><stop offset="0.4062" stop-color="#838383"/><stop offset="0.4187" stop-color="#888888"/><stop offset="0.4362" stop-color="#838383"/><stop offset="0.4536" stop-color="#777777"/><stop offset="0.4768" stop-color="#616161"/><stop offset="0.5001" stop-color="#4B4B4B"/><stop offset="0.5292" stop-color="#343434"/><stop offset="0.5640" stop-color="#212121"/><stop offset="0.6047" stop-color="#141414"/><stop offset="0.6512" stop-color="#0C0C0C"/><stop offset="0.7210" stop-color="#060606"/><stop offset="0.8256" stop-color="#030303"/><stop offset="1.0000" stop-color="#010101"/></linearGradient>
<linearGradient id="gl46" gradientUnits="userSpaceOnUse" x1="330.5" y1="0" x2="582.9" y2="0"><stop offset="0.0000" stop-color="#010101"/><stop offset="0.1256" stop-color="#030303"/><stop offset="0.2010" stop-color="#070707"/><stop offset="0.2512" stop-color="#0D0D0D"/><stop offset="0.2847" stop-color="#151515"/><stop offset="0.3140" stop-color="#222222"/><stop offset="0.3392" stop-color="#363636"/><stop offset="0.3601" stop-color="#4D4D4D"/><stop offset="0.3768" stop-color="#656565"/><stop offset="0.3936" stop-color="#7C7C7C"/><stop offset="0.4062" stop-color="#888888"/><stop offset="0.4187" stop-color="#8D8D8D"/><stop offset="0.4362" stop-color="#888888"/><stop offset="0.4536" stop-color="#7C7C7C"/><stop offset="0.4768" stop-color="#656565"/><stop offset="0.5001" stop-color="#4D4D4D"/><stop offset="0.5292" stop-color="#363636"/><stop offset="0.5640" stop-color="#222222"/><stop offset="0.6047" stop-color="#151515"/><stop offset="0.6512" stop-color="#0D0D0D"/><stop offset="0.7210" stop-color="#070707"/><stop offset="0.8256" stop-color="#030303"/><stop offset="1.0000" stop-color="#010101"/></linearGradient>
<linearGradient id="gl47" gradientUnits="userSpaceOnUse" x1="331.8" y1="0" x2="580.6" y2="0"><stop offset="0.0000" stop-color="#010101"/><stop offset="0.1256" stop-color="#030303"/><stop offset="0.2010" stop-color="#070707"/><stop offset="0.2512" stop-color="#0D0D0D"/><stop offset="0.2847" stop-color="#161616"/><stop offset="0.3140" stop-color="#242424"/><stop offset="0.3392" stop-color="#383838"/><stop offset="0.3601" stop-color="#505050"/><stop offset="0.3768" stop-color="#686868"/><stop offset="0.3936" stop-color="#808080"/><stop offset="0.4062" stop-color="#8D8D8D"/><stop offset="0.4187" stop-color="#929292"/><stop offset="0.4362" stop-color="#8D8D8D"/><stop offset="0.4536" stop-color="#808080"/><stop offset="0.4768" stop-color="#686868"/><stop offset="0.5001" stop-color="#505050"/><stop offset="0.5292" stop-color="#383838"/><stop offset="0.5640" stop-color="#242424"/><stop offset="0.6047" stop-color="#161616"/><stop offset="0.6512" stop-color="#0D0D0D"/><stop offset="0.7210" stop-color="#070707"/><stop offset="0.8256" stop-color="#030303"/><stop offset="1.0000" stop-color="#010101"/></linearGradient>
<linearGradient id="gl48" gradientUnits="userSpaceOnUse" x1="333.1" y1="0" x2="578.3" y2="0"><stop offset="0.0000" stop-color="#010101"/><stop offset="0.1256" stop-color="#030303"/><stop offset="0.2010" stop-color="#070707"/><stop offset="0.2512" stop-color="#0E0E0E"/><stop offset="0.2847" stop-color="#171717"/><stop offset="0.3140" stop-color="#252525"/><stop offset="0.3392" stop-color="#3A3A3A"/><stop offset="0.3601" stop-color="#535353"/><stop offset="0.3768" stop-color="#6C6C6C"/><stop offset="0.3936" stop-color="#858585"/><stop offset="0.4062" stop-color="#939393"/><stop offset="0.4187" stop-color="#989898"/><stop offset="0.4362" stop-color="#939393"/><stop offset="0.4536" stop-color="#858585"/><stop offset="0.4768" stop-color="#6C6C6C"/><stop offset="0.5001" stop-color="#535353"/><stop offset="0.5292" stop-color="#3A3A3A"/><stop offset="0.5640" stop-color="#252525"/><stop offset="0.6047" stop-color="#171717"/><stop offset="0.6512" stop-color="#0E0E0E"/><stop offset="0.7210" stop-color="#070707"/><stop offset="0.8256" stop-color="#030303"/><stop offset="1.0000" stop-color="#010101"/></linearGradient>
<linearGradient id="gl49" gradientUnits="userSpaceOnUse" x1="334.5" y1="0" x2="575.9" y2="0"><stop offset="0.0000" stop-color="#010101"/><stop offset="0.1256" stop-color="#030303"/><stop offset="0.2010" stop-color="#070707"/><stop offset="0.2512" stop-color="#0E0E0E"/><stop offset="0.2847" stop-color="#171717"/><stop offset="0.3140" stop-color="#262626"/><stop offset="0.3392" stop-color="#3C3C3C"/><stop offset="0.3601" stop-color="#575757"/><stop offset="0.3768" stop-color="#717171"/><stop offset="0.3936" stop-color="#8A8A8A"/><stop offset="0.4062" stop-color="#989898"/><stop offset="0.4187" stop-color="#9D9D9D"/><stop offset="0.4362" stop-color="#989898"/><stop offset="0.4536" stop-color="#8A8A8A"/><stop offset="0.4768" stop-color="#717171"/><stop offset="0.5001" stop-color="#575757"/><stop offset="0.5292" stop-color="#3C3C3C"/><stop offset="0.5640" stop-color="#262626"/><stop offset="0.6047" stop-color="#171717"/><stop offset="0.6512" stop-color="#0E0E0E"/><stop offset="0.7210" stop-color="#070707"/><stop offset="0.8256" stop-color="#030303"/><stop offset="1.0000" stop-color="#010101"/></linearGradient>
<linearGradient id="gl50" gradientUnits="userSpaceOnUse" x1="335.8" y1="0" x2="573.6" y2="0"><stop offset="0.0000" stop-color="#010101"/><stop offset="0.1256" stop-color="#030303"/><stop offset="0.2010" stop-color="#080808"/><stop offset="0.2512" stop-color="#0F0F0F"/><stop offset="0.2847" stop-color="#181818"/><stop offset="0.3140" stop-color="#282828"/><stop offset="0.3392" stop-color="#3E3E3E"/><stop offset="0.3601" stop-color="#5A5A5A"/><stop offset="0.3768" stop-color="#757575"/><stop offset="0.3936" stop-color="#909090"/><stop offset="0.4062" stop-color="#9E9E9E"/><stop offset="0.4187" stop-color="#A4A4A4"/><stop offset="0.4362" stop-color="#9E9E9E"/><stop offset="0.4536" stop-color="#909090"/><stop offset="0.4768" stop-color="#757575"/><stop offset="0.5001" stop-color="#5A5A5A"/><stop offset="0.5292" stop-color="#3E3E3E"/><stop offset="0.5640" stop-color="#282828"/><stop offset="0.6047" stop-color="#181818"/><stop offset="0.6512" stop-color="#0F0F0F"/><stop offset="0.7210" stop-color="#080808"/><stop offset="0.8256" stop-color="#030303"/><stop offset="1.0000" stop-color="#010101"/></linearGradient>
<linearGradient id="gl51" gradientUnits="userSpaceOnUse" x1="337.2" y1="0" x2="571.3" y2="0"><stop offset="0.0000" stop-color="#010101"/><stop offset="0.1256" stop-color="#040404"/><stop offset="0.2010" stop-color="#080808"/><stop offset="0.2512" stop-color="#0F0F0F"/><stop offset="0.2847" stop-color="#191919"/><stop offset="0.3140" stop-color="#292929"/><stop offset="0.3392" stop-color="#414141"/><stop offset="0.3601" stop-color="#5D5D5D"/><stop offset="0.3768" stop-color="#7A7A7A"/><stop offset="0.3936" stop-color="#959595"/><stop offset="0.4062" stop-color="#A4A4A4"/><stop offset="0.4187" stop-color="#AAAAAA"/><stop offset="0.4362" stop-color="#A4A4A4"/><stop offset="0.4536" stop-color="#959595"/><stop offset="0.4768" stop-color="#7A7A7A"/><stop offset="0.5001" stop-color="#5D5D5D"/><stop offset="0.5292" stop-color="#414141"/><stop offset="0.5640" stop-color="#292929"/><stop offset="0.6047" stop-color="#191919"/><stop offset="0.6512" stop-color="#0F0F0F"/><stop offset="0.7210" stop-color="#080808"/><stop offset="0.8256" stop-color="#040404"/><stop offset="1.0000" stop-color="#010101"/></linearGradient>
<linearGradient id="gl52" gradientUnits="userSpaceOnUse" x1="338.5" y1="0" x2="568.9" y2="0"><stop offset="0.0000" stop-color="#010101"/><stop offset="0.1256" stop-color="#040404"/><stop offset="0.2010" stop-color="#080808"/><stop offset="0.2512" stop-color="#101010"/><stop offset="0.2847" stop-color="#1A1A1A"/><stop offset="0.3140" stop-color="#2B2B2B"/><stop offset="0.3392" stop-color="#434343"/><stop offset="0.3601" stop-color="#616161"/><stop offset="0.3768" stop-color="#7F7F7F"/><stop offset="0.3936" stop-color="#9B9B9B"/><stop offset="0.4062" stop-color="#ABABAB"/><stop offset="0.4187" stop-color="#B1B1B1"/><stop offset="0.4362" stop-color="#ABABAB"/><stop offset="0.4536" stop-color="#9B9B9B"/><stop offset="0.4768" stop-color="#7F7F7F"/><stop offset="0.5001" stop-color="#616161"/><stop offset="0.5292" stop-color="#434343"/><stop offset="0.5640" stop-color="#2B2B2B"/><stop offset="0.6047" stop-color="#1A1A1A"/><stop offset="0.6512" stop-color="#101010"/><stop offset="0.7210" stop-color="#080808"/><stop offset="0.8256" stop-color="#040404"/><stop offset="1.0000" stop-color="#010101"/></linearGradient>
<linearGradient id="gl53" gradientUnits="userSpaceOnUse" x1="339.9" y1="0" x2="566.6" y2="0"><stop offset="0.0000" stop-color="#010101"/><stop offset="0.1256" stop-color="#040404"/><stop offset="0.2010" stop-color="#090909"/><stop offset="0.2512" stop-color="#101010"/><stop offset="0.2847" stop-color="#1B1B1B"/><stop offset="0.3140" stop-color="#2D2D2D"/><stop offset="0.3392" stop-color="#464646"/><stop offset="0.3601" stop-color="#656565"/><stop offset="0.3768" stop-color="#848484"/><stop offset="0.3936" stop-color="#A2A2A2"/><stop offset="0.4062" stop-color="#B2B2B2"/><stop offset="0.4187" stop-color="#B8B8B8"/><stop offset="0.4362" stop-color="#B2B2B2"/><stop offset="0.4536" stop-color="#A2A2A2"/><stop offset="0.4768" stop-color="#848484"/><stop offset="0.5001" stop-color="#656565"/><stop offset="0.5292" stop-color="#464646"/><stop offset="0.5640" stop-color="#2D2D2D"/><stop offset="0.6047" stop-color="#1B1B1B"/><stop offset="0.6512" stop-color="#101010"/><stop offset="0.7210" stop-color="#090909"/><stop offset="0.8256" stop-color="#040404"/><stop offset="1.0000" stop-color="#010101"/></linearGradient>
<linearGradient id="gl54" gradientUnits="userSpaceOnUse" x1="341.2" y1="0" x2="564.3" y2="0"><stop offset="0.0000" stop-color="#010101"/><stop offset="0.1256" stop-color="#040404"/><stop offset="0.2010" stop-color="#090909"/><stop offset="0.2512" stop-color="#111111"/><stop offset="0.2847" stop-color="#1D1D1D"/><stop offset="0.3140" stop-color="#2F2F2F"/><stop offset="0.3392" stop-color="#494949"/><stop offset="0.3601" stop-color="#696969"/><stop offset="0.3768" stop-color="#898989"/><stop offset="0.3936" stop-color="#A9A9A9"/><stop offset="0.4062" stop-color="#BABABA"/><stop offset="0.4187" stop-color="#C0C0C0"/><stop offset="0.4362" stop-color="#BABABA"/><stop offset="0.4536" stop-color="#A9A9A9"/><stop offset="0.4768" stop-color="#898989"/><stop offset="0.5001" stop-color="#696969"/><stop offset="0.5292" stop-color="#494949"/><stop offset="0.5640" stop-color="#2F2F2F"/><stop offset="0.6047" stop-color="#1D1D1D"/><stop offset="0.6512" stop-color="#111111"/><stop offset="0.7210" stop-color="#090909"/><stop offset="0.8256" stop-color="#040404"/><stop offset="1.0000" stop-color="#010101"/></linearGradient>
<linearGradient id="gl55" gradientUnits="userSpaceOnUse" x1="342.6" y1="0" x2="561.9" y2="0"><stop offset="0.0000" stop-color="#020202"/><stop offset="0.1256" stop-color="#040404"/><stop offset="0.2010" stop-color="#090909"/><stop offset="0.2512" stop-color="#121212"/><stop offset="0.2847" stop-color="#1E1E1E"/><stop offset="0.3140" stop-color="#313131"/><stop offset="0.3392" stop-color="#4C4C4C"/><stop offset="0.3601" stop-color="#6E6E6E"/><stop offset="0.3768" stop-color="#8F8F8F"/><stop offset="0.3936" stop-color="#B0B0B0"/><stop offset="0.4062" stop-color="#C1C1C1"/><stop offset="0.4187" stop-color="#C8C8C8"/><stop offset="0.4362" stop-color="#C1C1C1"/><stop offset="0.4536" stop-color="#B0B0B0"/><stop offset="0.4768" stop-color="#8F8F8F"/><stop offset="0.5001" stop-color="#6E6E6E"/><stop offset="0.5292" stop-color="#4C4C4C"/><stop offset="0.5640" stop-color="#313131"/><stop offset="0.6047" stop-color="#1E1E1E"/><stop offset="0.6512" stop-color="#121212"/><stop offset="0.7210" stop-color="#090909"/><stop offset="0.8256" stop-color="#040404"/><stop offset="1.0000" stop-color="#020202"/></linearGradient>
<linearGradient id="gl56" gradientUnits="userSpaceOnUse" x1="343.9" y1="0" x2="559.6" y2="0"><stop offset="0.0000" stop-color="#020202"/><stop offset="0.1256" stop-color="#040404"/><stop offset="0.2010" stop-color="#0A0A0A"/><stop offset="0.2512" stop-color="#131313"/><stop offset="0.2847" stop-color="#1F1F1F"/><stop offset="0.3140" stop-color="#333333"/><stop offset="0.3392" stop-color="#505050"/><stop offset="0.3601" stop-color="#737373"/><stop offset="0.3768" stop-color="#959595"/><stop offset="0.3936" stop-color="#B7B7B7"/><stop offset="0.4062" stop-color="#CACACA"/><stop offset="0.4187" stop-color="#D1D1D1"/><stop offset="0.4362" stop-color="#CACACA"/><stop offset="0.4536" stop-color="#B7B7B7"/><stop offset="0.4768" stop-color="#959595"/><stop offset="0.5001" stop-color="#737373"/><stop offset="0.5292" stop-color="#505050"/><stop offset="0.5640" stop-color="#333333"/><stop offset="0.6047" stop-color="#1F1F1F"/><stop offset="0.6512" stop-color="#131313"/><stop offset="0.7210" stop-color="#0A0A0A"/><stop offset="0.8256" stop-color="#040404"/><stop offset="1.0000" stop-color="#020202"/></linearGradient>
<linearGradient id="gl57" gradientUnits="userSpaceOnUse" x1="345.3" y1="0" x2="557.3" y2="0"><stop offset="0.0000" stop-color="#020202"/><stop offset="0.1256" stop-color="#050505"/><stop offset="0.2010" stop-color="#0A0A0A"/><stop offset="0.2512" stop-color="#131313"/><stop offset="0.2847" stop-color="#202020"/><stop offset="0.3140" stop-color="#353535"/><stop offset="0.3392" stop-color="#535353"/><stop offset="0.3601" stop-color="#787878"/><stop offset="0.3768" stop-color="#9C9C9C"/><stop offset="0.3936" stop-color="#BFBFBF"/><stop offset="0.4062" stop-color="#D3D3D3"/><stop offset="0.4187" stop-color="#DADADA"/><stop offset="0.4362" stop-color="#D3D3D3"/><stop offset="0.4536" stop-color="#BFBFBF"/><stop offset="0.4768" stop-color="#9C9C9C"/><stop offset="0.5001" stop-color="#787878"/><stop offset="0.5292" stop-color="#535353"/><stop offset="0.5640" stop-color="#353535"/><stop offset="0.6047" stop-color="#202020"/><stop offset="0.6512" stop-color="#131313"/><stop offset="0.7210" stop-color="#0A0A0A"/><stop offset="0.8256" stop-color="#050505"/><stop offset="1.0000" stop-color="#020202"/></linearGradient>
<linearGradient id="gl58" gradientUnits="userSpaceOnUse" x1="346.6" y1="0" x2="554.9" y2="0"><stop offset="0.0000" stop-color="#020202"/><stop offset="0.1256" stop-color="#050505"/><stop offset="0.2010" stop-color="#0B0B0B"/><stop offset="0.2512" stop-color="#141414"/><stop offset="0.2847" stop-color="#222222"/><stop offset="0.3140" stop-color="#373737"/><stop offset="0.3392" stop-color="#575757"/><stop offset="0.3601" stop-color="#7D7D7D"/><stop offset="0.3768" stop-color="#A3A3A3"/><stop offset="0.3936" stop-color="#C8C8C8"/><stop offset="0.4062" stop-color="#DCDCDC"/><stop offset="0.4187" stop-color="#E4E4E4"/><stop offset="0.4362" stop-color="#DCDCDC"/><stop offset="0.4536" stop-color="#C8C8C8"/><stop offset="0.4768" stop-color="#A3A3A3"/><stop offset="0.5001" stop-color="#7D7D7D"/><stop offset="0.5292" stop-color="#575757"/><stop offset="0.5640" stop-color="#373737"/><stop offset="0.6047" stop-color="#222222"/><stop offset="0.6512" stop-color="#141414"/><stop offset="0.7210" stop-color="#0B0B0B"/><stop offset="0.8256" stop-color="#050505"/><stop offset="1.0000" stop-color="#020202"/></linearGradient>
<linearGradient id="gl59" gradientUnits="userSpaceOnUse" x1="347.9" y1="0" x2="552.6" y2="0"><stop offset="0.0000" stop-color="#020202"/><stop offset="0.1256" stop-color="#050505"/><stop offset="0.2010" stop-color="#0B0B0B"/><stop offset="0.2512" stop-color="#151515"/><stop offset="0.2847" stop-color="#232323"/><stop offset="0.3140" stop-color="#3A3A3A"/><stop offset="0.3392" stop-color="#5B5B5B"/><stop offset="0.3601" stop-color="#838383"/><stop offset="0.3768" stop-color="#AAAAAA"/><stop offset="0.3936" stop-color="#D1D1D1"/><stop offset="0.4062" stop-color="#E6E6E6"/><stop offset="0.4187" stop-color="#EEEEEE"/><stop offset="0.4362" stop-color="#E6E6E6"/><stop offset="0.4536" stop-color="#D1D1D1"/><stop offset="0.4768" stop-color="#AAAAAA"/><stop offset="0.5001" stop-color="#838383"/><stop offset="0.5292" stop-color="#5B5B5B"/><stop offset="0.5640" stop-color="#3A3A3A"/><stop offset="0.6047" stop-color="#232323"/><stop offset="0.6512" stop-color="#151515"/><stop offset="0.7210" stop-color="#0B0B0B"/><stop offset="0.8256" stop-color="#050505"/><stop offset="1.0000" stop-color="#020202"/></linearGradient>
<linearGradient id="gl60" gradientUnits="userSpaceOnUse" x1="349.3" y1="0" x2="550.3" y2="0"><stop offset="0.0000" stop-color="#020202"/><stop offset="0.1256" stop-color="#050505"/><stop offset="0.2010" stop-color="#0C0C0C"/><stop offset="0.2512" stop-color="#161616"/><stop offset="0.2847" stop-color="#252525"/><stop offset="0.3140" stop-color="#3D3D3D"/><stop offset="0.3392" stop-color="#5F5F5F"/><stop offset="0.3601" stop-color="#898989"/><stop offset="0.3768" stop-color="#B2B2B2"/><stop offset="0.3936" stop-color="#DBDBDB"/><stop offset="0.4062" stop-color="#F1F1F1"/><stop offset="0.4187" stop-color="#F9F9F9"/><stop offset="0.4362" stop-color="#F1F1F1"/><stop offset="0.4536" stop-color="#DBDBDB"/><stop offset="0.4768" stop-color="#B2B2B2"/><stop offset="0.5001" stop-color="#898989"/><stop offset="0.5292" stop-color="#5F5F5F"/><stop offset="0.5640" stop-color="#3D3D3D"/><stop offset="0.6047" stop-color="#252525"/><stop offset="0.6512" stop-color="#161616"/><stop offset="0.7210" stop-color="#0C0C0C"/><stop offset="0.8256" stop-color="#050505"/><stop offset="1.0000" stop-color="#020202"/></linearGradient>
<linearGradient id="gl61" gradientUnits="userSpaceOnUse" x1="350.6" y1="0" x2="547.9" y2="0"><stop offset="0.0000" stop-color="#020202"/><stop offset="0.1256" stop-color="#050505"/><stop offset="0.2010" stop-color="#0C0C0C"/><stop offset="0.2512" stop-color="#171717"/><stop offset="0.2847" stop-color="#272727"/><stop offset="0.3140" stop-color="#404040"/><stop offset="0.3392" stop-color="#636363"/><stop offset="0.3601" stop-color="#8F8F8F"/><stop offset="0.3768" stop-color="#BBBBBB"/><stop offset="0.3936" stop-color="#E5E5E5"/><stop offset="0.4062" stop-color="#FCFCFC"/><stop offset="0.4187" stop-color="#FFFFFF"/><stop offset="0.4362" stop-color="#FCFCFC"/><stop offset="0.4536" stop-color="#E5E5E5"/><stop offset="0.4768" stop-color="#BBBBBB"/><stop offset="0.5001" stop-color="#8F8F8F"/><stop offset="0.5292" stop-color="#636363"/><stop offset="0.5640" stop-color="#404040"/><stop offset="0.6047" stop-color="#272727"/><stop offset="0.6512" stop-color="#171717"/><stop offset="0.7210" stop-color="#0C0C0C"/><stop offset="0.8256" stop-color="#050505"/><stop offset="1.0000" stop-color="#020202"/></linearGradient>
<linearGradient id="gl62" gradientUnits="userSpaceOnUse" x1="352.0" y1="0" x2="545.6" y2="0"><stop offset="0.0000" stop-color="#020202"/><stop offset="0.1256" stop-color="#060606"/><stop offset="0.2010" stop-color="#0D0D0D"/><stop offset="0.2512" stop-color="#181818"/><stop offset="0.2847" stop-color="#292929"/><stop offset="0.3140" stop-color="#434343"/><stop offset="0.3392" stop-color="#686868"/><stop offset="0.3601" stop-color="#969696"/><stop offset="0.3768" stop-color="#C4C4C4"/><stop offset="0.3936" stop-color="#F0F0F0"/><stop offset="0.4062" stop-color="#FFFFFF"/><stop offset="0.4187" stop-color="#FFFFFF"/><stop offset="0.4362" stop-color="#FFFFFF"/><stop offset="0.4536" stop-color="#F0F0F0"/><stop offset="0.4768" stop-color="#C4C4C4"/><stop offset="0.5001" stop-color="#969696"/><stop offset="0.5292" stop-color="#686868"/><stop offset="0.5640" stop-color="#434343"/><stop offset="0.6047" stop-color="#292929"/><stop offset="0.6512" stop-color="#181818"/><stop offset="0.7210" stop-color="#0D0D0D"/><stop offset="0.8256" stop-color="#060606"/><stop offset="1.0000" stop-color="#020202"/></linearGradient>
<linearGradient id="gl63" gradientUnits="userSpaceOnUse" x1="353.3" y1="0" x2="543.2" y2="0"><stop offset="0.0000" stop-color="#020202"/><stop offset="0.1256" stop-color="#060606"/><stop offset="0.2010" stop-color="#0D0D0D"/><stop offset="0.2512" stop-color="#1A1A1A"/><stop offset="0.2847" stop-color="#2B2B2B"/><stop offset="0.3140" stop-color="#464646"/><stop offset="0.3392" stop-color="#6D6D6D"/><stop offset="0.3601" stop-color="#9E9E9E"/><stop offset="0.3768" stop-color="#CDCDCD"/><stop offset="0.3936" stop-color="#FCFCFC"/><stop offset="0.4062" stop-color="#FFFFFF"/><stop offset="0.4187" stop-color="#FFFFFF"/><stop offset="0.4362" stop-color="#FFFFFF"/><stop offset="0.4536" stop-color="#FCFCFC"/><stop offset="0.4768" stop-color="#CDCDCD"/><stop offset="0.5001" stop-color="#9E9E9E"/><stop offset="0.5292" stop-color="#6D6D6D"/><stop offset="0.5640" stop-color="#464646"/><stop offset="0.6047" stop-color="#2B2B2B"/><stop offset="0.6512" stop-color="#1A1A1A"/><stop offset="0.7210" stop-color="#0D0D0D"/><stop offset="0.8256" stop-color="#060606"/><stop offset="1.0000" stop-color="#020202"/></linearGradient>
<linearGradient id="gl64" gradientUnits="userSpaceOnUse" x1="354.7" y1="0" x2="540.9" y2="0"><stop offset="0.0000" stop-color="#020202"/><stop offset="0.1256" stop-color="#060606"/><stop offset="0.2010" stop-color="#0E0E0E"/><stop offset="0.2512" stop-color="#1B1B1B"/><stop offset="0.2847" stop-color="#2D2D2D"/><stop offset="0.3140" stop-color="#494949"/><stop offset="0.3392" stop-color="#737373"/><stop offset="0.3601" stop-color="#A6A6A6"/><stop offset="0.3768" stop-color="#D7D7D7"/><stop offset="0.3936" stop-color="#FFFFFF"/><stop offset="0.4062" stop-color="#FFFFFF"/><stop offset="0.4187" stop-color="#FFFFFF"/><stop offset="0.4362" stop-color="#FFFFFF"/><stop offset="0.4536" stop-color="#FFFFFF"/><stop offset="0.4768" stop-color="#D7D7D7"/><stop offset="0.5001" stop-color="#A6A6A6"/><stop offset="0.5292" stop-color="#737373"/><stop offset="0.5640" stop-color="#494949"/><stop offset="0.6047" stop-color="#2D2D2D"/><stop offset="0.6512" stop-color="#1B1B1B"/><stop offset="0.7210" stop-color="#0E0E0E"/><stop offset="0.8256" stop-color="#060606"/><stop offset="1.0000" stop-color="#020202"/></linearGradient>
<linearGradient id="gl65" gradientUnits="userSpaceOnUse" x1="356.0" y1="0" x2="538.6" y2="0"><stop offset="0.0000" stop-color="#020202"/><stop offset="0.1256" stop-color="#070707"/><stop offset="0.2010" stop-color="#0F0F0F"/><stop offset="0.2512" stop-color="#1C1C1C"/><stop offset="0.2847" stop-color="#2F2F2F"/><stop offset="0.3140" stop-color="#4D4D4D"/><stop offset="0.3392" stop-color="#797979"/><stop offset="0.3601" stop-color="#AEAEAE"/><stop offset="0.3768" stop-color="#E2E2E2"/><stop offset="0.3936" stop-color="#FFFFFF"/><stop offset="0.4062" stop-color="#FFFFFF"/><stop offset="0.4187" stop-color="#FFFFFF"/><stop offset="0.4362" stop-color="#FFFFFF"/><stop offset="0.4536" stop-color="#FFFFFF"/><stop offset="0.4768" stop-color="#E2E2E2"/><stop offset="0.5001" stop-color="#AEAEAE"/><stop offset="0.5292" stop-color="#797979"/><stop offset="0.5640" stop-color="#4D4D4D"/><stop offset="0.6047" stop-color="#2F2F2F"/><stop offset="0.6512" stop-color="#1C1C1C"/><stop offset="0.7210" stop-color="#0F0F0F"/><stop offset="0.8256" stop-color="#070707"/><stop offset="1.0000" stop-color="#020202"/></linearGradient>
<linearGradient id="gl66" gradientUnits="userSpaceOnUse" x1="357.4" y1="0" x2="536.2" y2="0"><stop offset="0.0000" stop-color="#030303"/><stop offset="0.1256" stop-color="#070707"/><stop offset="0.2010" stop-color="#0F0F0F"/><stop offset="0.2512" stop-color="#1E1E1E"/><stop offset="0.2847" stop-color="#323232"/><stop offset="0.3140" stop-color="#515151"/><stop offset="0.3392" stop-color="#7F7F7F"/><stop offset="0.3601" stop-color="#B7B7B7"/><stop offset="0.3768" stop-color="#EEEEEE"/><stop offset="0.3936" stop-color="#FFFFFF"/><stop offset="0.4062" stop-color="#FFFFFF"/><stop offset="0.4187" stop-color="#FFFFFF"/><stop offset="0.4362" stop-color="#FFFFFF"/><stop offset="0.4536" stop-color="#FFFFFF"/><stop offset="0.4768" stop-color="#EEEEEE"/><stop offset="0.5001" stop-color="#B7B7B7"/><stop offset="0.5292" stop-color="#7F7F7F"/><stop offset="0.5640" stop-color="#515151"/><stop offset="0.6047" stop-color="#323232"/><stop offset="0.6512" stop-color="#1E1E1E"/><stop offset="0.7210" stop-color="#0F0F0F"/><stop offset="0.8256" stop-color="#070707"/><stop offset="1.0000" stop-color="#030303"/></linearGradient>
<linearGradient id="gl67" gradientUnits="userSpaceOnUse" x1="358.7" y1="0" x2="533.9" y2="0"><stop offset="0.0000" stop-color="#030303"/><stop offset="0.1256" stop-color="#070707"/><stop offset="0.2010" stop-color="#101010"/><stop offset="0.2512" stop-color="#1F1F1F"/><stop offset="0.2847" stop-color="#343434"/><stop offset="0.3140" stop-color="#565656"/><stop offset="0.3392" stop-color="#868686"/><stop offset="0.3601" stop-color="#C1C1C1"/><stop offset="0.3768" stop-color="#FBFBFB"/><stop offset="0.3936" stop-color="#FFFFFF"/><stop offset="0.4062" stop-color="#FFFFFF"/><stop offset="0.4187" stop-color="#FFFFFF"/><stop offset="0.4362" stop-color="#FFFFFF"/><stop offset="0.4536" stop-color="#FFFFFF"/><stop offset="0.4768" stop-color="#FBFBFB"/><stop offset="0.5001" stop-color="#C1C1C1"/><stop offset="0.5292" stop-color="#868686"/><stop offset="0.5640" stop-color="#565656"/><stop offset="0.6047" stop-color="#343434"/><stop offset="0.6512" stop-color="#1F1F1F"/><stop offset="0.7210" stop-color="#101010"/><stop offset="0.8256" stop-color="#070707"/><stop offset="1.0000" stop-color="#030303"/></linearGradient>
<linearGradient id="gl68" gradientUnits="userSpaceOnUse" x1="359.1" y1="0" x2="533.1" y2="0"><stop offset="0.0000" stop-color="#030303"/><stop offset="0.1256" stop-color="#070707"/><stop offset="0.2010" stop-color="#111111"/><stop offset="0.2512" stop-color="#202020"/><stop offset="0.2847" stop-color="#353535"/><stop offset="0.3140" stop-color="#575757"/><stop offset="0.3392" stop-color="#888888"/><stop offset="0.3601" stop-color="#C4C4C4"/><stop offset="0.3768" stop-color="#FFFFFF"/><stop offset="0.3936" stop-color="#FFFFFF"/><stop offset="0.4062" stop-color="#FFFFFF"/><stop offset="0.4187" stop-color="#FFFFFF"/><stop offset="0.4362" stop-color="#FFFFFF"/><stop offset="0.4536" stop-color="#FFFFFF"/><stop offset="0.4768" stop-color="#FFFFFF"/><stop offset="0.5001" stop-color="#C4C4C4"/><stop offset="0.5292" stop-color="#888888"/><stop offset="0.5640" stop-color="#575757"/><stop offset="0.6047" stop-color="#353535"/><stop offset="0.6512" stop-color="#202020"/><stop offset="0.7210" stop-color="#111111"/><stop offset="0.8256" stop-color="#070707"/><stop offset="1.0000" stop-color="#030303"/></linearGradient>
</defs>
<rect x="152.4" y="1160.00" width="577.80" height="3.30" fill="url(#gl0)"/>
<rect x="152.4" y="1163.00" width="577.80" height="3.30" fill="url(#gl1)"/>
<rect x="152.4" y="1166.00" width="577.80" height="3.30" fill="url(#gl2)"/>
<rect x="152.4" y="1169.00" width="577.80" height="3.30" fill="url(#gl3)"/>
<rect x="152.4" y="1172.00" width="577.80" height="3.30" fill="url(#gl4)"/>
<rect x="152.4" y="1175.00" width="577.80" height="3.30" fill="url(#gl5)"/>
<rect x="152.4" y="1178.00" width="577.80" height="3.30" fill="url(#gl6)"/>
<rect x="152.4" y="1181.00" width="577.80" height="3.30" fill="url(#gl7)"/>
<rect x="152.4" y="1184.00" width="577.80" height="3.30" fill="url(#gl8)"/>
<rect x="152.4" y="1187.00" width="577.80" height="3.30" fill="url(#gl9)"/>
<rect x="152.4" y="1190.00" width="577.80" height="3.30" fill="url(#gl10)"/>
<rect x="152.4" y="1193.00" width="577.80" height="3.30" fill="url(#gl11)"/>
<rect x="152.4" y="1196.00" width="577.80" height="3.30" fill="url(#gl12)"/>
<rect x="152.4" y="1199.00" width="577.80" height="3.30" fill="url(#gl13)"/>
<rect x="152.4" y="1202.00" width="577.80" height="3.30" fill="url(#gl14)"/>
<rect x="152.4" y="1205.00" width="577.80" height="3.30" fill="url(#gl15)"/>
<rect x="152.4" y="1208.00" width="577.80" height="3.30" fill="url(#gl16)"/>
<rect x="152.4" y="1211.00" width="577.80" height="3.30" fill="url(#gl17)"/>
<rect x="152.4" y="1214.00" width="577.80" height="3.30" fill="url(#gl18)"/>
<rect x="152.4" y="1217.00" width="577.80" height="3.30" fill="url(#gl19)"/>
<rect x="152.4" y="1220.00" width="577.80" height="3.30" fill="url(#gl20)"/>
<rect x="152.4" y="1223.00" width="577.80" height="3.30" fill="url(#gl21)"/>
<rect x="152.4" y="1226.00" width="577.80" height="3.30" fill="url(#gl22)"/>
<rect x="152.4" y="1229.00" width="577.80" height="3.30" fill="url(#gl23)"/>
<rect x="152.4" y="1232.00" width="577.80" height="3.30" fill="url(#gl24)"/>
<rect x="152.4" y="1235.00" width="577.80" height="3.30" fill="url(#gl25)"/>
<rect x="152.4" y="1238.00" width="577.80" height="3.30" fill="url(#gl26)"/>
<rect x="152.4" y="1241.00" width="577.80" height="3.30" fill="url(#gl27)"/>
<rect x="152.4" y="1244.00" width="577.80" height="3.30" fill="url(#gl28)"/>
<rect x="152.4" y="1247.00" width="577.80" height="3.30" fill="url(#gl29)"/>
<rect x="152.4" y="1250.00" width="577.80" height="3.30" fill="url(#gl30)"/>
<rect x="152.4" y="1253.00" width="577.80" height="3.30" fill="url(#gl31)"/>
<rect x="152.4" y="1256.00" width="577.80" height="3.30" fill="url(#gl32)"/>
<rect x="152.4" y="1259.00" width="577.80" height="3.30" fill="url(#gl33)"/>
<rect x="152.4" y="1262.00" width="577.80" height="3.30" fill="url(#gl34)"/>
<rect x="152.4" y="1265.00" width="577.80" height="3.30" fill="url(#gl35)"/>
<rect x="152.4" y="1268.00" width="577.80" height="3.30" fill="url(#gl36)"/>
<rect x="152.4" y="1271.00" width="577.80" height="3.30" fill="url(#gl37)"/>
<rect x="152.4" y="1274.00" width="577.80" height="3.30" fill="url(#gl38)"/>
<rect x="152.4" y="1277.00" width="577.80" height="3.30" fill="url(#gl39)"/>
<rect x="152.4" y="1280.00" width="577.80" height="3.30" fill="url(#gl40)"/>
<rect x="152.4" y="1283.00" width="577.80" height="3.30" fill="url(#gl41)"/>
<rect x="152.4" y="1286.00" width="577.80" height="3.30" fill="url(#gl42)"/>
<rect x="152.4" y="1289.00" width="577.80" height="3.30" fill="url(#gl43)"/>
<rect x="152.4" y="1292.00" width="577.80" height="3.30" fill="url(#gl44)"/>
<rect x="152.4" y="1295.00" width="577.80" height="3.30" fill="url(#gl45)"/>
<rect x="152.4" y="1298.00" width="577.80" height="3.30" fill="url(#gl46)"/>
<rect x="152.4" y="1301.00" width="577.80" height="3.30" fill="url(#gl47)"/>
<rect x="152.4" y="1304.00" width="577.80" height="3.30" fill="url(#gl48)"/>
<rect x="152.4" y="1307.00" width="577.80" height="3.30" fill="url(#gl49)"/>
<rect x="152.4" y="1310.00" width="577.80" height="3.30" fill="url(#gl50)"/>
<rect x="152.4" y="1313.00" width="577.80" height="3.30" fill="url(#gl51)"/>
<rect x="152.4" y="1316.00" width="577.80" height="3.30" fill="url(#gl52)"/>
<rect x="152.4" y="1319.00" width="577.80" height="3.30" fill="url(#gl53)"/>
<rect x="152.4" y="1322.00" width="577.80" height="3.30" fill="url(#gl54)"/>
<rect x="152.4" y="1325.00" width="577.80" height="3.30" fill="url(#gl55)"/>
<rect x="152.4" y="1328.00" width="577.80" height="3.30" fill="url(#gl56)"/>
<rect x="152.4" y="1331.00" width="577.80" height="3.30" fill="url(#gl57)"/>
<rect x="152.4" y="1334.00" width="577.80" height="3.30" fill="url(#gl58)"/>
<rect x="152.4" y="1337.00" width="577.80" height="3.30" fill="url(#gl59)"/>
<rect x="152.4" y="1340.00" width="577.80" height="3.30" fill="url(#gl60)"/>
<rect x="152.4" y="1343.00" width="577.80" height="3.30" fill="url(#gl61)"/>
<rect x="152.4" y="1346.00" width="577.80" height="3.30" fill="url(#gl62)"/>
<rect x="152.4" y="1349.00" width="577.80" height="3.30" fill="url(#gl63)"/>
<rect x="152.4" y="1352.00" width="577.80" height="3.30" fill="url(#gl64)"/>
<rect x="152.4" y="1355.00" width="577.80" height="3.30" fill="url(#gl65)"/>
<rect x="152.4" y="1358.00" width="577.80" height="3.30" fill="url(#gl66)"/>
<rect x="152.4" y="1361.00" width="577.80" height="3.30" fill="url(#gl67)"/>
<rect x="152.4" y="1364.00" width="577.80" height="0.80" fill="url(#gl68)"/>
<path d="M248.70,1160.0V1364.5M345.00,1160.0V1364.5M441.30,1160.0V1364.5M537.60,1160.0V1364.5M633.90,1160.0V1364.5M152.4,1323.65H730.2M152.4,1283.80H730.2M152.4,1243.95H730.2M152.4,1204.10H730.2M152.4,1164.25H730.2" stroke="#FFFFFF" stroke-opacity="0.06" stroke-width="1.1" fill="none"/>
<clipPath id="blkclip"><rect x="152.4" y="1154.0" width="577.80" height="210.50"/></clipPath>
<g clip-path="url(#blkclip)" fill="none" stroke-linecap="round" stroke-linejoin="round">
<path d="M156.80,1251.20 C157.53,1252.17 160.08,1254.65 161.20,1257.00 C162.32,1259.35 162.72,1261.57 163.50,1265.30 C164.28,1269.03 165.25,1274.30 165.90,1279.40 C166.55,1284.50 167.12,1290.40 167.40,1295.90 C167.68,1301.40 167.60,1305.73 167.60,1312.40 C167.60,1319.07 167.55,1328.07 167.40,1335.90 C167.25,1343.73 166.82,1355.48 166.70,1359.40" stroke="#FFFF00" stroke-width="3"/>
<path d="M156.80,1251.20 C157.53,1252.17 160.08,1254.65 161.20,1257.00 C162.32,1259.35 162.72,1261.57 163.50,1265.30 C164.28,1269.03 165.25,1274.30 165.90,1279.40 C166.55,1284.50 167.12,1290.40 167.40,1295.90 C167.68,1301.40 167.60,1305.73 167.60,1312.40 C167.60,1319.07 167.55,1328.07 167.40,1335.90 C167.25,1343.73 166.82,1355.48 166.70,1359.40" stroke="#FFFF00" stroke-width="4.6" stroke-dasharray="0 2.2"/>
<path d="M176.80,1302.40 C176.45,1304.45 175.25,1309.12 174.70,1314.70 C174.15,1320.28 173.88,1327.67 173.50,1335.90 C173.12,1344.13 172.58,1359.40 172.40,1364.10" stroke="#00FFFF" stroke-width="3"/>
<path d="M176.80,1302.40 C176.45,1304.45 175.25,1309.12 174.70,1314.70 C174.15,1320.28 173.88,1327.67 173.50,1335.90 C173.12,1344.13 172.58,1359.40 172.40,1364.10" stroke="#00FFFF" stroke-width="4.6" stroke-dasharray="0 2.2"/>
<path d="M177.00,1359.40 C177.17,1354.50 177.57,1339.07 178.00,1330.00 C178.43,1320.93 178.88,1310.23 179.60,1305.00 C180.32,1299.77 181.37,1299.35 182.30,1298.60 C183.23,1297.85 184.28,1298.27 185.20,1300.50 C186.12,1302.73 187.12,1307.08 187.80,1312.00 C188.48,1316.92 188.93,1322.10 189.30,1330.00 C189.67,1337.90 189.88,1354.50 190.00,1359.40" stroke="#FFFF00" stroke-width="3"/>
<path d="M177.00,1359.40 C177.17,1354.50 177.57,1339.07 178.00,1330.00 C178.43,1320.93 178.88,1310.23 179.60,1305.00 C180.32,1299.77 181.37,1299.35 182.30,1298.60 C183.23,1297.85 184.28,1298.27 185.20,1300.50 C186.12,1302.73 187.12,1307.08 187.80,1312.00 C188.48,1316.92 188.93,1322.10 189.30,1330.00 C189.67,1337.90 189.88,1354.50 190.00,1359.40" stroke="#FFFF00" stroke-width="4.6" stroke-dasharray="0 2.2"/>
<path d="M201.20,1314.70 C200.80,1315.88 199.50,1318.27 198.80,1321.80 C198.10,1325.33 197.38,1328.85 197.00,1335.90 C196.62,1342.95 196.58,1359.40 196.50,1364.10" stroke="#00FFFF" stroke-width="3"/>
<path d="M201.20,1314.70 C200.80,1315.88 199.50,1318.27 198.80,1321.80 C198.10,1325.33 197.38,1328.85 197.00,1335.90 C196.62,1342.95 196.58,1359.40 196.50,1364.10" stroke="#00FFFF" stroke-width="4.6" stroke-dasharray="0 2.2"/>
<path d="M201.80,1359.40 C202.05,1357.17 202.52,1349.43 203.30,1346.00 C204.08,1342.57 205.52,1338.97 206.50,1338.80 C207.48,1338.63 208.42,1341.57 209.20,1345.00 C209.98,1348.43 210.87,1357.00 211.20,1359.40" stroke="#FFFF00" stroke-width="3"/>
<path d="M201.80,1359.40 C202.05,1357.17 202.52,1349.43 203.30,1346.00 C204.08,1342.57 205.52,1338.97 206.50,1338.80 C207.48,1338.63 208.42,1341.57 209.20,1345.00 C209.98,1348.43 210.87,1357.00 211.20,1359.40" stroke="#FFFF00" stroke-width="4.6" stroke-dasharray="0 2.2"/>
<path d="M234.10,1346.50 C233.82,1347.67 232.98,1350.57 232.40,1353.50 C231.82,1356.43 230.90,1362.33 230.60,1364.10" stroke="#00FFFF" stroke-width="3"/>
<path d="M234.10,1346.50 C233.82,1347.67 232.98,1350.57 232.40,1353.50 C231.82,1356.43 230.90,1362.33 230.60,1364.10" stroke="#00FFFF" stroke-width="4.6" stroke-dasharray="0 2.2"/>
<path d="M245.90,1263.00 C245.40,1267.30 243.68,1280.57 242.90,1288.80 C242.12,1297.03 241.58,1304.55 241.20,1312.40 C240.82,1320.25 240.50,1327.28 240.60,1335.90 C240.70,1344.52 241.60,1359.40 241.80,1364.10" stroke="#00FFFF" stroke-width="3"/>
<path d="M245.90,1263.00 C245.40,1267.30 243.68,1280.57 242.90,1288.80 C242.12,1297.03 241.58,1304.55 241.20,1312.40 C240.82,1320.25 240.50,1327.28 240.60,1335.90 C240.70,1344.52 241.60,1359.40 241.80,1364.10" stroke="#00FFFF" stroke-width="4.6" stroke-dasharray="0 2.2"/>
<path d="M253.50,1359.00 C253.83,1358.58 255.00,1356.42 255.50,1356.50 C256.00,1356.58 256.33,1359.00 256.50,1359.50" stroke="#FFFF00" stroke-width="3"/>
<path d="M253.50,1359.00 C253.83,1358.58 255.00,1356.42 255.50,1356.50 C256.00,1356.58 256.33,1359.00 256.50,1359.50" stroke="#FFFF00" stroke-width="4.6" stroke-dasharray="0 2.2"/>
<path d="M280.60,1158.80 C281.03,1160.27 282.17,1163.18 283.20,1167.60 C284.23,1172.02 285.62,1177.93 286.80,1185.30 C287.98,1192.67 289.28,1203.57 290.30,1211.80 C291.32,1220.03 292.10,1227.35 292.90,1234.70 C293.70,1242.05 294.50,1247.97 295.10,1255.90 C295.70,1263.83 296.27,1273.48 296.50,1282.30 C296.73,1291.12 296.50,1299.97 296.50,1308.80 C296.50,1317.63 296.45,1326.03 296.50,1335.30 C296.55,1344.57 296.75,1359.55 296.80,1364.40" stroke="#00FFFF" stroke-width="3"/>
<path d="M280.60,1158.80 C281.03,1160.27 282.17,1163.18 283.20,1167.60 C284.23,1172.02 285.62,1177.93 286.80,1185.30 C287.98,1192.67 289.28,1203.57 290.30,1211.80 C291.32,1220.03 292.10,1227.35 292.90,1234.70 C293.70,1242.05 294.50,1247.97 295.10,1255.90 C295.70,1263.83 296.27,1273.48 296.50,1282.30 C296.73,1291.12 296.50,1299.97 296.50,1308.80 C296.50,1317.63 296.45,1326.03 296.50,1335.30 C296.55,1344.57 296.75,1359.55 296.80,1364.40" stroke="#00FFFF" stroke-width="4.6" stroke-dasharray="0 2.2"/>
<path d="M282.4,1361.5L282.6,1364" stroke="#00FFFF" stroke-width="3"/>
<path d="M282.4,1361.5L282.6,1364" stroke="#00FFFF" stroke-width="4.6" stroke-dasharray="0 2.2"/>
<path d="M313.20,1262.90 C313.93,1263.63 316.13,1265.82 317.60,1267.30 C319.07,1268.78 320.52,1270.32 322.00,1271.80 C323.48,1273.28 324.87,1273.27 326.50,1276.20 C328.13,1279.13 330.18,1284.55 331.80,1289.40 C333.42,1294.25 334.88,1300.88 336.20,1305.30 C337.52,1309.72 338.38,1313.55 339.70,1315.90 C341.02,1318.25 342.78,1317.05 344.10,1319.40 C345.42,1321.75 346.72,1325.88 347.60,1330.00 C348.48,1334.12 349.03,1338.37 349.40,1344.10 C349.77,1349.83 349.73,1361.02 349.80,1364.40" stroke="#00FFFF" stroke-width="3"/>
<path d="M313.20,1262.90 C313.93,1263.63 316.13,1265.82 317.60,1267.30 C319.07,1268.78 320.52,1270.32 322.00,1271.80 C323.48,1273.28 324.87,1273.27 326.50,1276.20 C328.13,1279.13 330.18,1284.55 331.80,1289.40 C333.42,1294.25 334.88,1300.88 336.20,1305.30 C337.52,1309.72 338.38,1313.55 339.70,1315.90 C341.02,1318.25 342.78,1317.05 344.10,1319.40 C345.42,1321.75 346.72,1325.88 347.60,1330.00 C348.48,1334.12 349.03,1338.37 349.40,1344.10 C349.77,1349.83 349.73,1361.02 349.80,1364.40" stroke="#00FFFF" stroke-width="4.6" stroke-dasharray="0 2.2"/>
<path d="M317.8,1357.8L316.8,1364.4" stroke="#00FFFF" stroke-width="3"/>
<path d="M317.8,1357.8L316.8,1364.4" stroke="#00FFFF" stroke-width="4.6" stroke-dasharray="0 2.2"/>
<path d="M361.40,1334.90 C362.05,1335.85 364.22,1338.18 365.30,1340.60 C366.38,1343.02 367.17,1345.43 367.90,1349.40 C368.63,1353.37 369.40,1361.90 369.70,1364.40" stroke="#00FFFF" stroke-width="3"/>
<path d="M361.40,1334.90 C362.05,1335.85 364.22,1338.18 365.30,1340.60 C366.38,1343.02 367.17,1345.43 367.90,1349.40 C368.63,1353.37 369.40,1361.90 369.70,1364.40" stroke="#00FFFF" stroke-width="4.6" stroke-dasharray="0 2.2"/>
<path d="M724.70,1162.20 C724.20,1167.82 722.72,1182.63 721.70,1195.90 C720.68,1209.17 719.30,1227.78 718.60,1241.80 C717.90,1255.82 717.35,1270.30 717.50,1280.00 C717.65,1289.70 718.80,1293.12 719.50,1300.00 C720.20,1306.88 720.95,1315.12 721.70,1321.30 C722.45,1327.48 723.22,1330.72 724.00,1337.10 C724.78,1343.48 726.00,1355.85 726.40,1359.60" stroke="#FFFF00" stroke-width="3"/>
<path d="M724.70,1162.20 C724.20,1167.82 722.72,1182.63 721.70,1195.90 C720.68,1209.17 719.30,1227.78 718.60,1241.80 C717.90,1255.82 717.35,1270.30 717.50,1280.00 C717.65,1289.70 718.80,1293.12 719.50,1300.00 C720.20,1306.88 720.95,1315.12 721.70,1321.30 C722.45,1327.48 723.22,1330.72 724.00,1337.10 C724.78,1343.48 726.00,1355.85 726.40,1359.60" stroke="#FFFF00" stroke-width="4.6" stroke-dasharray="0 2.2"/>
<path d="M590.40,1359.60 C590.70,1356.33 591.58,1344.70 592.20,1340.00 C592.82,1335.30 593.15,1334.23 594.10,1331.40 C595.05,1328.57 596.55,1325.13 597.90,1323.00 C599.25,1320.87 601.02,1318.43 602.20,1318.60 C603.38,1318.77 604.27,1321.27 605.00,1324.00 C605.73,1326.73 606.03,1329.07 606.60,1335.00 C607.17,1340.93 608.10,1355.50 608.40,1359.60" stroke="#FFFF00" stroke-width="3"/>
<path d="M590.40,1359.60 C590.70,1356.33 591.58,1344.70 592.20,1340.00 C592.82,1335.30 593.15,1334.23 594.10,1331.40 C595.05,1328.57 596.55,1325.13 597.90,1323.00 C599.25,1320.87 601.02,1318.43 602.20,1318.60 C603.38,1318.77 604.27,1321.27 605.00,1324.00 C605.73,1326.73 606.03,1329.07 606.60,1335.00 C607.17,1340.93 608.10,1355.50 608.40,1359.60" stroke="#FFFF00" stroke-width="4.6" stroke-dasharray="0 2.2"/>
<path d="M588.50,1343.60 C589.43,1344.70 592.85,1346.58 594.10,1350.20 C595.35,1353.82 595.68,1362.78 596.00,1365.30" stroke="#00FFFF" stroke-width="3"/>
<path d="M588.50,1343.60 C589.43,1344.70 592.85,1346.58 594.10,1350.20 C595.35,1353.82 595.68,1362.78 596.00,1365.30" stroke="#00FFFF" stroke-width="4.6" stroke-dasharray="0 2.2"/>
<path d="M619.50,1359.60 C619.82,1355.85 620.77,1343.83 621.40,1337.10 C622.03,1330.37 622.35,1322.97 623.30,1319.20 C624.25,1315.43 626.05,1313.70 627.10,1314.50 C628.15,1315.30 629.02,1319.75 629.60,1324.00 C630.18,1328.25 630.33,1334.07 630.60,1340.00 C630.87,1345.93 631.10,1356.33 631.20,1359.60" stroke="#FFFF00" stroke-width="3"/>
<path d="M619.50,1359.60 C619.82,1355.85 620.77,1343.83 621.40,1337.10 C622.03,1330.37 622.35,1322.97 623.30,1319.20 C624.25,1315.43 626.05,1313.70 627.10,1314.50 C628.15,1315.30 629.02,1319.75 629.60,1324.00 C630.18,1328.25 630.33,1334.07 630.60,1340.00 C630.87,1345.93 631.10,1356.33 631.20,1359.60" stroke="#FFFF00" stroke-width="4.6" stroke-dasharray="0 2.2"/>
<path d="M620.50,1331.40 C621.12,1333.92 623.52,1340.85 624.20,1346.50 C624.88,1352.15 624.53,1362.17 624.60,1365.30" stroke="#00FFFF" stroke-width="3"/>
<path d="M620.50,1331.40 C621.12,1333.92 623.52,1340.85 624.20,1346.50 C624.88,1352.15 624.53,1362.17 624.60,1365.30" stroke="#00FFFF" stroke-width="4.6" stroke-dasharray="0 2.2"/>
<path d="M643.1,1354.9L643.1,1359.6" stroke="#FFFF00" stroke-width="3"/>
<path d="M643.1,1354.9L643.1,1359.6" stroke="#FFFF00" stroke-width="4.6" stroke-dasharray="0 2.2"/>
<path d="M642.4,1362L642.1,1364.4" stroke="#00FFFF" stroke-width="3"/>
<path d="M642.4,1362L642.1,1364.4" stroke="#00FFFF" stroke-width="4.6" stroke-dasharray="0 2.2"/>
<path d="M660.00,1359.60 C660.08,1356.33 660.35,1345.33 660.50,1340.00 C660.65,1334.67 660.52,1331.85 660.90,1327.60 C661.28,1323.35 662.02,1317.32 662.80,1314.50 C663.58,1311.68 664.73,1310.12 665.60,1310.70 C666.47,1311.28 667.35,1314.45 668.00,1318.00 C668.65,1321.55 668.95,1325.07 669.50,1332.00 C670.05,1338.93 671.00,1355.00 671.30,1359.60" stroke="#FFFF00" stroke-width="3"/>
<path d="M660.00,1359.60 C660.08,1356.33 660.35,1345.33 660.50,1340.00 C660.65,1334.67 660.52,1331.85 660.90,1327.60 C661.28,1323.35 662.02,1317.32 662.80,1314.50 C663.58,1311.68 664.73,1310.12 665.60,1310.70 C666.47,1311.28 667.35,1314.45 668.00,1318.00 C668.65,1321.55 668.95,1325.07 669.50,1332.00 C670.05,1338.93 671.00,1355.00 671.30,1359.60" stroke="#FFFF00" stroke-width="4.6" stroke-dasharray="0 2.2"/>
<path d="M663.8,1342.7L664.7,1365.3" stroke="#00FFFF" stroke-width="3"/>
<path d="M663.8,1342.7L664.7,1365.3" stroke="#00FFFF" stroke-width="4.6" stroke-dasharray="0 2.2"/>
<path d="M688.20,1359.60 C688.42,1357.17 689.02,1349.38 689.50,1345.00 C689.98,1340.62 690.37,1336.97 691.10,1333.30 C691.83,1329.63 692.82,1325.35 693.90,1323.00 C694.98,1320.65 696.98,1319.83 697.60,1319.20" stroke="#FFFF00" stroke-width="3"/>
<path d="M688.20,1359.60 C688.42,1357.17 689.02,1349.38 689.50,1345.00 C689.98,1340.62 690.37,1336.97 691.10,1333.30 C691.83,1329.63 692.82,1325.35 693.90,1323.00 C694.98,1320.65 696.98,1319.83 697.60,1319.20" stroke="#FFFF00" stroke-width="4.6" stroke-dasharray="0 2.2"/>
<path d="M697.6,1346.5L696.7,1363.4" stroke="#00FFFF" stroke-width="3"/>
<path d="M697.6,1346.5L696.7,1363.4" stroke="#00FFFF" stroke-width="4.6" stroke-dasharray="0 2.2"/>
<path d="M708.90,1323.00 C709.38,1325.35 711.17,1331.00 711.80,1337.10 C712.43,1343.20 712.55,1355.85 712.70,1359.60" stroke="#FFFF00" stroke-width="3"/>
<path d="M708.90,1323.00 C709.38,1325.35 711.17,1331.00 711.80,1337.10 C712.43,1343.20 712.55,1355.85 712.70,1359.60" stroke="#FFFF00" stroke-width="4.6" stroke-dasharray="0 2.2"/>
<path d="M708.00,1363.40 C708.47,1362.47 709.55,1360.00 710.80,1357.80 C712.05,1355.60 714.72,1351.47 715.50,1350.20" stroke="#00FFFF" stroke-width="3"/>
<path d="M708.00,1363.40 C708.47,1362.47 709.55,1360.00 710.80,1357.80 C712.05,1355.60 714.72,1351.47 715.50,1350.20" stroke="#00FFFF" stroke-width="4.6" stroke-dasharray="0 2.2"/>
<path d="M394.4,1162.2L416.4,1361.8M519.6,1162.2L468.6,1361.8" stroke="#F2F200" stroke-width="3.2"/><path d="M394.4,1162.2L416.4,1361.8M519.6,1162.2L468.6,1361.8" stroke="#F2F200" stroke-width="5.4" stroke-dasharray="0 2.5"/>
<path d="M394.4,1162.2L416.4,1361.8M519.6,1162.2L468.6,1361.8" stroke="#FF3A00" stroke-width="2.6"/>
<path d="M437.1,1162.2L434.4,1363.9" stroke="#00FFFF" stroke-width="2.6"/><path d="M437.1,1162.2L434.4,1363.9" stroke="#00FFFF" stroke-width="4" stroke-dasharray="0 2.2"/>
</g>
<path d="M394.4,1162.2L432.2,1504.6L437.1,1162.2M519.6,1162.2L432.2,1504.6" stroke="#FF1010" stroke-width="1.8" fill="none" stroke-linejoin="miter"/>
<circle cx="437.3" cy="1159.5" r="2.3" fill="#00FFFF"/>
<circle cx="280.6" cy="1159.3" r="2.2" fill="#00FFFF"/>
<line x1="152.4" y1="1505" x2="730.2" y2="1505" stroke="#333" stroke-width="1.3"/>
<path d="M152.4,1160.0H730.2V1566.5H152.4Z" fill="none" stroke="#262626" stroke-width="1.5"/>
<path d="M248.70,1566.5v-5.5M345.00,1566.5v-5.5M441.30,1566.5v-5.5M537.60,1566.5v-5.5M633.90,1566.5v-5.5M432.6,1566.5v-5.5M152.4,1522.90h5.5M730.2,1522.90h-5.5M152.4,1483.05h5.5M730.2,1483.05h-5.5M152.4,1443.20h5.5M730.2,1443.20h-5.5M152.4,1403.35h5.5M730.2,1403.35h-5.5M152.4,1562.75h5.5M730.2,1562.75h-5.5" stroke="#262626" stroke-width="1.3" fill="none"/>
<path d="M152.4,1363.50h5.5M730.2,1363.50h-5.5M152.4,1323.65h5.5M730.2,1323.65h-5.5M152.4,1283.80h5.5M730.2,1283.80h-5.5M152.4,1243.95h5.5M730.2,1243.95h-5.5M152.4,1204.10h5.5M730.2,1204.10h-5.5M152.4,1164.25h5.5M730.2,1164.25h-5.5M248.70,1160.0v5.5M345.00,1160.0v5.5M441.30,1160.0v5.5M537.60,1160.0v5.5M633.90,1160.0v5.5" stroke="#3a3a3a" stroke-width="1.3" fill="none"/>
<text transform="translate(388.9,1198.4) rotate(-99)" font-family="Liberation Sans" font-size="20" text-anchor="middle" fill="#FF0000" stroke="#FF0000" stroke-width="0.7">R²=0.99</text>
<text transform="translate(464.7,1200.8) rotate(-85)" font-family="Liberation Sans" font-size="20" text-anchor="middle" fill="#FF0000" stroke="#FF0000" stroke-width="0.7">R²=0.97</text>
<text transform="translate(535.6,1205.9) rotate(-70)" font-family="Liberation Sans" font-size="20" text-anchor="middle" fill="#FF0000" stroke="#FF0000" stroke-width="0.7">R²=0.99</text>
<text transform="translate(142.30,1175.25) scale(1.0000,1.0700)" font-family="Liberation Serif" font-style="italic" stroke="#fff" stroke-width="0.55" font-size="30.5" text-anchor="end" fill="#262626" >5</text>
<text transform="translate(142.30,1215.10) scale(1.0000,1.0700)" font-family="Liberation Serif" font-style="italic" stroke="#fff" stroke-width="0.55" font-size="30.5" text-anchor="end" fill="#262626" >4</text>
<text transform="translate(142.30,1254.95) scale(1.0000,1.0700)" font-family="Liberation Serif" font-style="italic" stroke="#fff" stroke-width="0.55" font-size="30.5" text-anchor="end" fill="#262626" >3</text>
<text transform="translate(142.30,1294.80) scale(1.0000,1.0700)" font-family="Liberation Serif" font-style="italic" stroke="#fff" stroke-width="0.55" font-size="30.5" text-anchor="end" fill="#262626" >2</text>
<text transform="translate(142.30,1334.65) scale(1.0000,1.0700)" font-family="Liberation Serif" font-style="italic" stroke="#fff" stroke-width="0.55" font-size="30.5" text-anchor="end" fill="#262626" >1</text>
<text transform="translate(142.30,1374.50) scale(1.0000,1.0700)" font-family="Liberation Serif" font-style="italic" stroke="#fff" stroke-width="0.55" font-size="30.5" text-anchor="end" fill="#262626" >0</text>
<text transform="translate(142.30,1414.35) scale(1.0000,1.0700)" font-family="Liberation Serif" font-style="italic" stroke="#fff" stroke-width="0.55" font-size="30.5" text-anchor="end" fill="#262626" >-1</text>
<text transform="translate(142.30,1454.20) scale(1.0000,1.0700)" font-family="Liberation Serif" font-style="italic" stroke="#fff" stroke-width="0.55" font-size="30.5" text-anchor="end" fill="#262626" >-2</text>
<text transform="translate(142.30,1494.05) scale(1.0000,1.0700)" font-family="Liberation Serif" font-style="italic" stroke="#fff" stroke-width="0.55" font-size="30.5" text-anchor="end" fill="#262626" >-3</text>
<text transform="translate(142.30,1533.90) scale(1.0000,1.0700)" font-family="Liberation Serif" font-style="italic" stroke="#fff" stroke-width="0.55" font-size="30.5" text-anchor="end" fill="#262626" >-4</text>
<text transform="translate(142.30,1573.75) scale(1.0000,1.0700)" font-family="Liberation Serif" font-style="italic" stroke="#fff" stroke-width="0.55" font-size="30.5" text-anchor="end" fill="#262626" >-5</text>
<text transform="translate(151.90,1606.50) scale(1.0000,1.0500)" font-family="Liberation Serif" font-style="italic" stroke="#fff" stroke-width="0.55" font-size="32" text-anchor="middle" fill="#262626" >0</text>
<text transform="translate(248.20,1606.50) scale(1.0000,1.0500)" font-family="Liberation Serif" font-style="italic" stroke="#fff" stroke-width="0.55" font-size="32" text-anchor="middle" fill="#262626" >20</text>
<text transform="translate(344.50,1606.50) scale(1.0000,1.0500)" font-family="Liberation Serif" font-style="italic" stroke="#fff" stroke-width="0.55" font-size="32" text-anchor="middle" fill="#262626" >40</text>
<text transform="translate(440.80,1606.50) scale(1.0000,1.0500)" font-family="Liberation Serif" font-style="italic" stroke="#fff" stroke-width="0.55" font-size="32" text-anchor="middle" fill="#262626" >60</text>
<text transform="translate(537.10,1606.50) scale(1.0000,1.0500)" font-family="Liberation Serif" font-style="italic" stroke="#fff" stroke-width="0.55" font-size="32" text-anchor="middle" fill="#262626" >80</text>
<text transform="translate(633.40,1606.50) scale(1.0000,1.0500)" font-family="Liberation Serif" font-style="italic" stroke="#fff" stroke-width="0.55" font-size="32" text-anchor="middle" fill="#262626" >100</text>
<text transform="translate(729.70,1606.50) scale(1.0000,1.0500)" font-family="Liberation Serif" font-style="italic" stroke="#fff" stroke-width="0.55" font-size="32" text-anchor="middle" fill="#262626" >120</text>
<text transform="translate(1.50,1192.50)" font-family="Liberation Sans" font-size="29.5" font-weight="bold" text-anchor="start" fill="#000" letter-spacing="1.2">(c)</text>
<text transform="translate(93.30,1279.40) rotate(-90) scale(0.9800,1.0000)" font-family="Liberation Sans" font-size="30.3" text-anchor="middle" fill="#000" >Level [km]</text>
<text transform="translate(94.40,1509.50) rotate(-90) scale(0.9150,1.0000)" font-family="Liberation Sans" font-size="32.8" text-anchor="middle" fill="#000" >Depth [km]</text>
<text transform="translate(361.60,1661.50)" font-family="Liberation Sans" font-size="29.6" text-anchor="start" fill="#000" >Distance [km]</text>
<path d="M210.2,1709.7V1980.0M424.6,1709.7V1980.0M639.4,1709.7V1980.0M167.1,1844.5H725.2" stroke="#E0E0E0" stroke-width="1.6" fill="none"/>
<path d="M273.2,1831.1 L275.0,1832.7 L276.8,1831.3 L278.6,1832.9 L280.4,1831.5 L282.2,1833.1 L284.0,1831.7 L285.8,1833.4 L287.6,1832.0 L289.4,1833.6 L291.2,1832.3 L293.0,1834.2 L294.8,1833.1 L296.6,1834.9 L298.4,1833.8 L300.2,1835.6 L302.0,1834.1 L303.8,1835.6 L305.6,1834.1 L307.4,1835.6 L309.2,1834.1 L311.0,1835.6 L312.8,1834.1 L314.6,1835.6 L316.4,1834.1 L318.2,1835.6 L320.0,1834.1 L321.8,1835.6 L323.6,1834.1 L325.4,1835.6 L327.2,1834.1 L329.0,1835.6 L330.8,1834.1 L332.6,1835.6 L334.4,1834.1 L336.2,1835.6 L338.0,1834.1 L339.8,1835.6 L341.6,1834.1 L343.4,1835.6 L345.2,1834.1 L347.0,1835.6 L348.8,1834.1 L350.6,1835.6 L352.4,1834.1 L354.2,1835.6 L356.0,1834.1 L357.8,1835.6 L359.6,1834.1 L361.4,1835.6 L363.2,1834.1 L365.0,1835.6 L366.8,1834.1 L368.6,1835.6 L370.4,1834.1 L372.2,1835.6 L374.0,1834.1 L375.8,1835.6 L377.6,1834.1 L379.4,1835.6 L381.2,1834.1 L383.0,1835.6 L384.8,1834.1 L386.6,1835.6 L388.4,1834.1 L390.2,1835.6 L392.0,1833.9 L393.8,1835.2 L395.6,1833.5 L397.4,1834.9 L399.2,1833.2 L401.0,1834.5 L402.8,1832.8 L404.6,1834.1 L406.4,1832.5 L408.2,1833.8 L410.0,1832.1 L411.8,1833.6 L413.6,1832.1 L415.4,1833.5 L417.2,1832.0 L419.0,1833.5 L420.8,1832.0 L422.6,1833.4 L424.4,1831.9 L426.2,1833.4 L428.0,1831.9 L429.8,1833.4 L431.6,1831.8 L433.4,1833.3 L435.2,1831.8 L437.0,1833.3 L438.8,1831.7 L440.6,1833.2 L442.4,1831.7 L444.2,1833.2 L446.0,1831.6 L447.8,1833.1 L449.6,1831.6 L451.4,1833.1 L453.2,1831.6 L455.0,1833.0 L456.8,1831.5 L458.6,1833.0 L460.4,1831.5 L462.2,1832.9 L464.0,1831.4 L465.8,1832.9 L467.6,1831.4 L469.4,1832.9 L471.2,1831.3 L473.0,1832.8 L474.8,1831.3 L476.6,1832.8 L478.4,1831.2 L480.2,1832.7 L482.0,1831.2 L483.8,1832.7 L485.6,1831.2 L487.4,1832.6 L489.2,1831.1 L491.0,1832.6 L492.8,1831.1 L494.6,1832.6 L496.4,1831.2 L498.2,1832.7 L500.0,1831.2 L501.8,1832.7 L503.6,1831.2 L505.4,1832.7 L507.2,1831.2 L509.0,1832.8 L510.8,1831.3 L512.6,1832.8 L514.4,1831.3 L516.2,1832.8 L518.0,1831.3 L519.8,1832.8 L521.6,1831.4 L523.4,1832.9 L525.2,1831.4 L527.0,1832.9 L528.8,1831.4 L530.6,1832.9 L532.4,1831.5 L534.2,1833.0 L536.0,1831.5 L537.8,1833.0 L539.6,1831.5 L541.4,1833.0 L543.2,1831.5 L545.0,1833.1 L546.8,1831.6 L548.6,1833.1 L550.4,1831.5 L552.2,1832.7 L554.0,1830.8 L555.8,1831.9 L557.6,1830.1 L559.4,1831.2 L561.2,1829.6 L563.0,1831.1 L564.8,1829.6 L566.6,1831.1 L568.4,1829.6 L570.2,1831.1 L572.0,1829.5 L573.8,1831.0 L575.6,1829.5 L577.4,1831.0 L579.2,1829.5 L581.0,1831.0 L582.8,1829.5 L584.6,1831.0 L586.4,1829.5 L588.2,1831.0 L590.0,1829.5 L591.8,1831.0 L593.6,1829.5 L595.4,1831.0 L597.2,1829.4 L599.0,1830.9 L600.8,1829.4 L602.6,1830.9 L604.4,1829.4 L606.2,1830.9 L608.0,1829.4 L608.0,1850.2 L606.2,1848.7 L604.4,1850.2 L602.6,1848.7 L600.8,1850.2 L599.0,1848.7 L597.2,1850.2 L595.4,1848.8 L593.6,1850.3 L591.8,1848.8 L590.0,1850.3 L588.2,1848.8 L586.4,1850.3 L584.6,1848.8 L582.8,1850.3 L581.0,1848.8 L579.2,1850.3 L577.4,1848.8 L575.6,1850.3 L573.8,1848.8 L572.0,1850.4 L570.2,1848.9 L568.4,1850.4 L566.6,1848.9 L564.8,1850.4 L563.0,1848.9 L561.2,1850.4 L559.4,1849.0 L557.6,1850.7 L555.8,1849.4 L554.0,1851.2 L552.2,1849.9 L550.4,1851.6 L548.6,1850.2 L546.8,1851.7 L545.0,1850.2 L543.2,1851.7 L541.4,1850.2 L539.6,1851.6 L537.8,1850.1 L536.0,1851.6 L534.2,1850.1 L532.4,1851.6 L530.6,1850.1 L528.8,1851.6 L527.0,1850.1 L525.2,1851.6 L523.4,1850.1 L521.6,1851.6 L519.8,1850.0 L518.0,1851.5 L516.2,1850.0 L514.4,1851.5 L512.6,1850.0 L510.8,1851.5 L509.0,1850.0 L507.2,1851.5 L505.4,1850.0 L503.6,1851.5 L501.8,1850.0 L500.0,1851.5 L498.2,1849.9 L496.4,1851.4 L494.6,1849.9 L492.8,1851.4 L491.0,1849.9 L489.2,1851.4 L487.4,1849.9 L485.6,1851.4 L483.8,1849.9 L482.0,1851.5 L480.2,1850.0 L478.4,1851.5 L476.6,1850.0 L474.8,1851.5 L473.0,1850.0 L471.2,1851.5 L469.4,1850.0 L467.6,1851.5 L465.8,1850.1 L464.0,1851.6 L462.2,1850.1 L460.4,1851.6 L458.6,1850.1 L456.8,1851.6 L455.0,1850.1 L453.2,1851.6 L451.4,1850.1 L449.6,1851.7 L447.8,1850.2 L446.0,1851.7 L444.2,1850.2 L442.4,1851.7 L440.6,1850.2 L438.8,1851.7 L437.0,1850.2 L435.2,1851.7 L433.4,1850.3 L431.6,1851.8 L429.8,1850.3 L428.0,1851.8 L426.2,1850.3 L424.4,1851.8 L422.6,1850.3 L420.8,1851.8 L419.0,1850.3 L417.2,1851.9 L415.4,1850.4 L413.6,1851.9 L411.8,1850.4 L410.0,1851.9 L408.2,1850.5 L406.4,1852.2 L404.6,1850.8 L402.8,1852.5 L401.0,1851.1 L399.2,1852.8 L397.4,1851.4 L395.6,1853.1 L393.8,1851.7 L392.0,1853.3 L390.2,1852.0 L388.4,1853.5 L386.6,1852.0 L384.8,1853.5 L383.0,1852.0 L381.2,1853.5 L379.4,1852.0 L377.6,1853.5 L375.8,1852.0 L374.0,1853.5 L372.2,1852.0 L370.4,1853.5 L368.6,1852.0 L366.8,1853.6 L365.0,1852.1 L363.2,1853.6 L361.4,1852.1 L359.6,1853.6 L357.8,1852.1 L356.0,1853.6 L354.2,1852.1 L352.4,1853.6 L350.6,1852.1 L348.8,1853.6 L347.0,1852.1 L345.2,1853.6 L343.4,1852.1 L341.6,1853.6 L339.8,1852.1 L338.0,1853.6 L336.2,1852.1 L334.4,1853.6 L332.6,1852.1 L330.8,1853.6 L329.0,1852.1 L327.2,1853.6 L325.4,1852.1 L323.6,1853.6 L321.8,1852.2 L320.0,1853.7 L318.2,1852.2 L316.4,1853.7 L314.6,1852.2 L312.8,1853.7 L311.0,1852.2 L309.2,1853.7 L307.4,1852.2 L305.6,1853.7 L303.8,1852.2 L302.0,1853.7 L300.2,1852.2 L298.4,1853.6 L296.6,1852.1 L294.8,1853.5 L293.0,1851.9 L291.2,1853.3 L289.4,1851.8 L287.6,1853.2 L285.8,1851.6 L284.0,1853.0 L282.2,1851.4 L280.4,1852.8 L278.6,1851.3 L276.8,1852.7 L275.0,1851.1 L273.2,1852.5Z" fill="#0000FF" stroke="#0000FF" stroke-width="0.8" stroke-linejoin="round"/>
<path d="M167.1,1709.7H725.2V1980.0H167.1Z" fill="none" stroke="#8A8A8A" stroke-width="2.6"/>
<path d="M210.2,1709.7v6M210.2,1980.0v-6M424.6,1709.7v6M424.6,1980.0v-6M639.4,1709.7v6M639.4,1980.0v-6M167.1,1844.5h6M725.2,1844.5h-6" stroke="#555" stroke-width="2.4" fill="none"/>
<text transform="translate(153.70,1724.70) scale(1.0000,1.0600)" font-family="Liberation Serif" font-style="italic" stroke="#fff" stroke-width="0.55" font-size="42" text-anchor="end" fill="#262626" >-1.5</text>
<text transform="translate(155.10,1859.00) scale(1.0000,1.0600)" font-family="Liberation Serif" font-style="italic" stroke="#fff" stroke-width="0.55" font-size="42" text-anchor="end" fill="#262626" >-2</text>
<text transform="translate(154.20,1995.00) scale(1.0000,1.0600)" font-family="Liberation Serif" font-style="italic" stroke="#fff" stroke-width="0.55" font-size="42" text-anchor="end" fill="#262626" >-2.5</text>
<text transform="translate(210.40,2031.70) scale(1.0000,1.0300)" font-family="Liberation Serif" font-style="italic" stroke="#fff" stroke-width="0.55" font-size="43.5" text-anchor="middle" fill="#262626" >0.1</text>
<text transform="translate(425.20,2031.70) scale(1.0000,1.0300)" font-family="Liberation Serif" font-style="italic" stroke="#fff" stroke-width="0.55" font-size="43.5" text-anchor="middle" fill="#262626" >0.15</text>
<text transform="translate(641.20,2031.70) scale(1.0000,1.0300)" font-family="Liberation Serif" font-style="italic" stroke="#fff" stroke-width="0.55" font-size="43.5" text-anchor="middle" fill="#262626" >0.2</text>
<text transform="translate(1.80,1689.70)" font-family="Liberation Sans" font-size="29.5" font-weight="bold" text-anchor="start" fill="#000" letter-spacing="1.6">(d)</text>
<text transform="translate(383.70,2086.40) scale(1.1300,1.0000)" font-family="Liberation Sans" font-size="26" text-anchor="start" fill="#000" >∂ log(z)/ ∂ z</text>
<text transform="translate(53.60,1857.80) rotate(-90) scale(1.1200,1.0000)" font-family="Liberation Sans" font-size="26" text-anchor="middle" fill="#000" >∂ log(<tspan font-family="Liberation Serif" font-style="italic" font-size="27">χ</tspan>)/ ∂ log(z)</text>
</svg></body></html>
